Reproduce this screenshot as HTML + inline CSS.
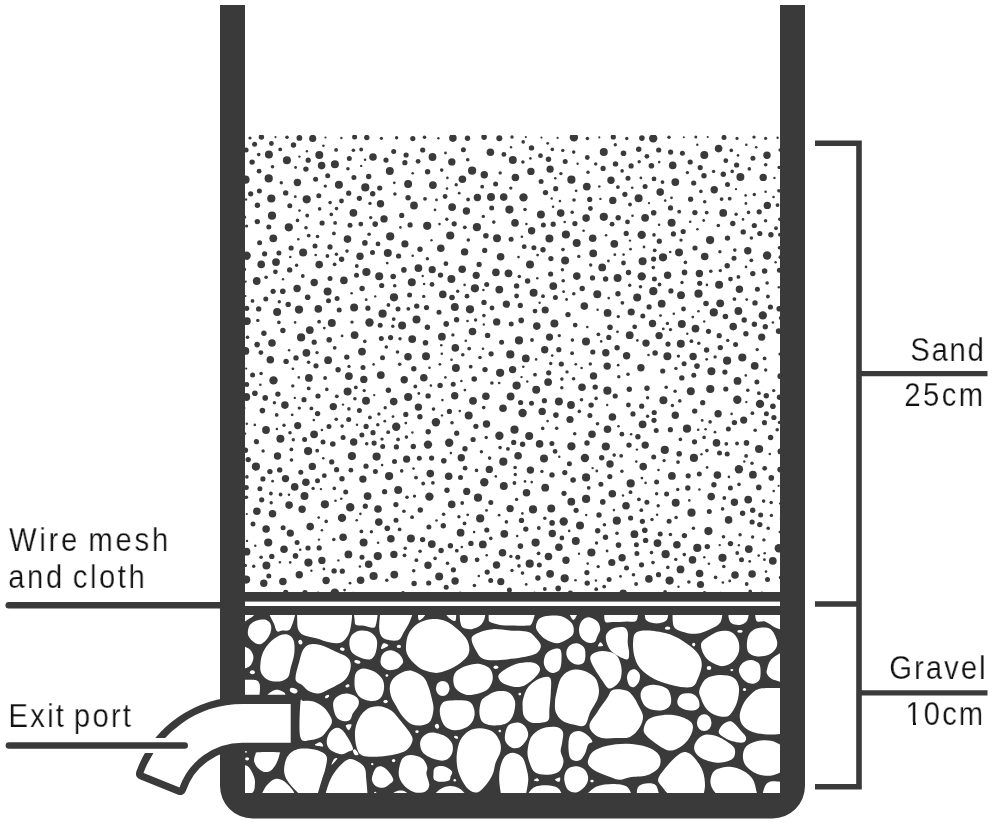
<!DOCTYPE html>
<html><head><meta charset="utf-8"><style>
html,body{margin:0;padding:0;background:#fff;width:992px;height:822px;overflow:hidden}
svg{position:absolute;left:0;top:0}
.t{position:absolute;-webkit-text-stroke:0.25px #fff;will-change:transform;font-family:"Liberation Sans",sans-serif;font-size:34px;line-height:40px;color:#111111;white-space:nowrap}
</style></head><body>
<svg width="992" height="822" viewBox="0 0 992 822">
<defs>
<clipPath id="sandclip"><rect x="245" y="135" width="535" height="457"/></clipPath>
<clipPath id="gravclip"><rect x="245" y="615" width="535" height="178"/></clipPath>
</defs>
<g fill="#3a3a3a" clip-path="url(#sandclip)"><circle cx="250" cy="138" r="1.6"/><circle cx="261.4" cy="137.1" r="2.7"/><circle cx="275.5" cy="137.1" r="1.1"/><circle cx="287" cy="137.2" r="1.8"/><circle cx="299.4" cy="137.9" r="2.9"/><circle cx="312.7" cy="138.4" r="3.6"/><circle cx="325.5" cy="137.5" r="1.1"/><circle cx="341.4" cy="138" r="1.2"/><circle cx="354.6" cy="137.1" r="2.5"/><circle cx="366.8" cy="137.5" r="2.7"/><circle cx="381.4" cy="138.3" r="1.6"/><circle cx="396.6" cy="137.8" r="1.7"/><circle cx="412.8" cy="138.6" r="2.6"/><circle cx="424.5" cy="137.2" r="1.8"/><circle cx="438.4" cy="138.2" r="1.2"/><circle cx="452.9" cy="138.1" r="3.8"/><circle cx="467.5" cy="138.3" r="2.7"/><circle cx="484.1" cy="137.1" r="2.8"/><circle cx="499.3" cy="138.3" r="3"/><circle cx="512" cy="137" r="1.7"/><circle cx="525.8" cy="137.1" r="1.1"/><circle cx="541.4" cy="137.6" r="1.1"/><circle cx="557.6" cy="137.9" r="1.1"/><circle cx="573.9" cy="137.4" r="4.2"/><circle cx="587.4" cy="138.5" r="1.8"/><circle cx="599.3" cy="137.4" r="1.1"/><circle cx="613.3" cy="137" r="2.6"/><circle cx="626.8" cy="138.5" r="1.7"/><circle cx="641.9" cy="138.1" r="2.8"/><circle cx="653.2" cy="138.4" r="4.2"/><circle cx="669" cy="137.2" r="1.7"/><circle cx="683.8" cy="137.3" r="1"/><circle cx="695.8" cy="137" r="1.5"/><circle cx="707.7" cy="137" r="1.1"/><circle cx="724" cy="137.4" r="2.5"/><circle cx="737" cy="138.4" r="1.6"/><circle cx="754" cy="137.1" r="1.7"/><circle cx="765.6" cy="138.3" r="1.6"/><circle cx="777.6" cy="137.8" r="1.2"/><circle cx="246.1" cy="150" r="2.5"/><circle cx="245.5" cy="179.7" r="4.1"/><circle cx="246.1" cy="199.5" r="1.2"/><circle cx="246.6" cy="226" r="1.6"/><circle cx="246.6" cy="255.7" r="4.2"/><circle cx="245.7" cy="281.6" r="1.1"/><circle cx="245.5" cy="296" r="1.1"/><circle cx="246.9" cy="321.1" r="3.9"/><circle cx="245.4" cy="350.9" r="3.9"/><circle cx="246.2" cy="368.6" r="1.1"/><circle cx="246.3" cy="397" r="3.9"/><circle cx="246.8" cy="423.8" r="1.2"/><circle cx="245.4" cy="450.3" r="2.7"/><circle cx="246.9" cy="476.9" r="1.8"/><circle cx="246.4" cy="497.2" r="1.8"/><circle cx="246.8" cy="514" r="1.1"/><circle cx="247" cy="540.9" r="1.2"/><circle cx="245.3" cy="565.4" r="1.7"/><circle cx="246.1" cy="579.6" r="4.1"/><circle cx="780.2" cy="150" r="1.8"/><circle cx="779" cy="167.4" r="1.6"/><circle cx="778.8" cy="190.8" r="1.7"/><circle cx="779.7" cy="219.3" r="1.7"/><circle cx="779.5" cy="247.8" r="1.8"/><circle cx="779.4" cy="270.3" r="2.5"/><circle cx="778.8" cy="287.2" r="1.2"/><circle cx="779.2" cy="308.8" r="2.8"/><circle cx="778.7" cy="331.1" r="2.9"/><circle cx="780" cy="354.1" r="1.6"/><circle cx="780.3" cy="376.2" r="2.9"/><circle cx="779.5" cy="397.3" r="2.7"/><circle cx="779.5" cy="422.4" r="1.7"/><circle cx="780.4" cy="451.4" r="2.9"/><circle cx="780.2" cy="469.6" r="2.9"/><circle cx="778.6" cy="485.8" r="1.1"/><circle cx="780.1" cy="503.6" r="1.2"/><circle cx="779.8" cy="532" r="1.2"/><circle cx="778.9" cy="548.3" r="4.3"/><circle cx="780.5" cy="577.5" r="1.7"/><circle cx="252" cy="593.5" r="1.1"/><circle cx="271.4" cy="593.9" r="1.1"/><circle cx="285.7" cy="592.5" r="2.7"/><circle cx="305" cy="592.6" r="2.7"/><circle cx="334.8" cy="592.7" r="4.3"/><circle cx="353.1" cy="593" r="1.2"/><circle cx="369.1" cy="594.1" r="1.8"/><circle cx="387.3" cy="593.6" r="1.2"/><circle cx="412.5" cy="593.9" r="1"/><circle cx="433.3" cy="593.8" r="1.2"/><circle cx="460.1" cy="592.6" r="1.2"/><circle cx="487.9" cy="593.6" r="1.6"/><circle cx="516.7" cy="593.6" r="1.6"/><circle cx="534.5" cy="592.6" r="1.1"/><circle cx="551.8" cy="594" r="1.6"/><circle cx="570.4" cy="593.2" r="2.6"/><circle cx="584.7" cy="594" r="1.5"/><circle cx="607.5" cy="594.4" r="1.1"/><circle cx="623.2" cy="593.5" r="3.9"/><circle cx="650.6" cy="593.9" r="1.7"/><circle cx="680.3" cy="593.9" r="1.8"/><circle cx="704.5" cy="592.6" r="1.6"/><circle cx="720.5" cy="593" r="1.2"/><circle cx="737.2" cy="594.2" r="1.2"/><circle cx="761.9" cy="593.1" r="1.6"/><circle cx="464" cy="559" r="3.9"/><circle cx="723.2" cy="212.9" r="3.9"/><circle cx="611" cy="180.2" r="3.7"/><circle cx="640.9" cy="367.8" r="3.7"/><circle cx="536.2" cy="389.8" r="4"/><circle cx="665.6" cy="554.2" r="4.1"/><circle cx="582" cy="387.2" r="3.8"/><circle cx="691.5" cy="512.7" r="4.1"/><circle cx="442.8" cy="294.4" r="3.8"/><circle cx="402.1" cy="325.4" r="4"/><circle cx="695.5" cy="328.6" r="3.9"/><circle cx="610" cy="464" r="3.7"/><circle cx="704.7" cy="256.5" r="3.8"/><circle cx="626" cy="505.7" r="3.8"/><circle cx="297.4" cy="182.5" r="3.7"/><circle cx="324.9" cy="504.3" r="4.1"/><circle cx="504.3" cy="533.8" r="3.9"/><circle cx="667.6" cy="275.3" r="3.7"/><circle cx="306.4" cy="352.8" r="3.9"/><circle cx="614.3" cy="243.8" r="3.9"/><circle cx="462.4" cy="179.2" r="3.8"/><circle cx="580" cy="525.5" r="4"/><circle cx="378.8" cy="522.1" r="3.8"/><circle cx="468.7" cy="415.4" r="4"/><circle cx="308.1" cy="451.1" r="4.1"/><circle cx="432.9" cy="185.1" r="3.9"/><circle cx="484.3" cy="482.2" r="4.2"/><circle cx="607.6" cy="312.9" r="3.9"/><circle cx="343.9" cy="280.4" r="3.8"/><circle cx="737.5" cy="380.9" r="3.9"/><circle cx="343.1" cy="537.3" r="3.8"/><circle cx="554.4" cy="323.5" r="4"/><circle cx="390.2" cy="236.4" r="4.1"/><circle cx="549.4" cy="238.6" r="4"/><circle cx="427.2" cy="225.8" r="4.1"/><circle cx="738.9" cy="469.2" r="4.2"/><circle cx="734.4" cy="502.2" r="3.7"/><circle cx="530.9" cy="171.4" r="3.7"/><circle cx="496.7" cy="321.9" r="3.7"/><circle cx="687" cy="428.7" r="4.1"/><circle cx="722.5" cy="557.8" r="4.1"/><circle cx="354.6" cy="335.1" r="3.9"/><circle cx="379.2" cy="276.3" r="4"/><circle cx="739.4" cy="289.2" r="3.7"/><circle cx="529.2" cy="436" r="4"/><circle cx="617.6" cy="277.9" r="4"/><circle cx="338.9" cy="184.7" r="4"/><circle cx="303.1" cy="252.5" r="4"/><circle cx="347.5" cy="239.1" r="3.8"/><circle cx="362.9" cy="479.1" r="3.7"/><circle cx="353.7" cy="442" r="3.7"/><circle cx="500.1" cy="372.8" r="4.1"/><circle cx="428" cy="444.6" r="4.2"/><circle cx="333.3" cy="406.6" r="3.7"/><circle cx="284" cy="549.2" r="3.8"/><circle cx="642.6" cy="424.3" r="3.9"/><circle cx="284.9" cy="405.1" r="3.8"/><circle cx="389.8" cy="171" r="4"/><circle cx="423.8" cy="377.7" r="3.8"/><circle cx="675.3" cy="182.1" r="3.9"/><circle cx="530.4" cy="470.1" r="3.7"/><circle cx="571.4" cy="179.7" r="4.1"/><circle cx="576.8" cy="276.1" r="3.8"/><circle cx="398.2" cy="489.9" r="4"/><circle cx="638.6" cy="198.2" r="4"/><circle cx="733.2" cy="326.6" r="3.8"/><circle cx="533.6" cy="292.7" r="4"/><circle cx="297.1" cy="288.5" r="3.7"/><circle cx="410.9" cy="538.4" r="4"/><circle cx="629.7" cy="335.2" r="3.9"/><circle cx="671.6" cy="222.8" r="4"/><circle cx="380.8" cy="375.1" r="3.9"/><circle cx="288.8" cy="227.3" r="4.1"/><circle cx="515" cy="222.9" r="3.8"/><circle cx="476.2" cy="275.3" r="3.6"/><circle cx="529.7" cy="563.7" r="4.1"/><circle cx="476.9" cy="227.2" r="4.1"/><circle cx="571.4" cy="446.3" r="4.1"/><circle cx="718.1" cy="413.7" r="3.7"/><circle cx="743.7" cy="420.1" r="3.6"/><circle cx="740.4" cy="176.9" r="4"/><circle cx="551.2" cy="508.5" r="4"/><circle cx="428" cy="565.3" r="3.7"/><circle cx="377.8" cy="556.1" r="4.1"/><circle cx="560.7" cy="213.1" r="3.8"/><circle cx="396.2" cy="426.7" r="4.2"/><circle cx="611.8" cy="562.5" r="3.6"/><circle cx="461.3" cy="457.7" r="3.7"/><circle cx="380.5" cy="203.7" r="3.7"/><circle cx="747.8" cy="250.7" r="3.7"/><circle cx="643.2" cy="466.6" r="3.8"/><circle cx="510.1" cy="508.6" r="3.7"/><circle cx="503.7" cy="197.1" r="3.8"/><circle cx="634.4" cy="534.2" r="3.9"/><circle cx="348.9" cy="376.1" r="3.9"/><circle cx="607.5" cy="429.3" r="3.8"/><circle cx="671.9" cy="475.9" r="3.9"/><circle cx="653.3" cy="291.2" r="4.1"/><circle cx="558.9" cy="401.6" r="4"/><circle cx="451.7" cy="504.4" r="3.8"/><circle cx="441.9" cy="336.7" r="3.9"/><circle cx="698.5" cy="293.7" r="4.1"/><circle cx="607.2" cy="366.1" r="3.7"/><circle cx="663.4" cy="400.2" r="4"/><circle cx="480.2" cy="518.4" r="4.1"/><circle cx="376.6" cy="456.6" r="4.1"/><circle cx="430.3" cy="473.6" r="3.8"/><circle cx="690.8" cy="391.3" r="4"/><circle cx="452.1" cy="207.1" r="3.9"/><circle cx="366" cy="400.8" r="4"/><circle cx="519" cy="340.4" r="4.1"/><circle cx="544.7" cy="349.8" r="3.7"/><circle cx="455.9" cy="368.1" r="4"/><circle cx="308.9" cy="377.9" r="3.9"/><circle cx="748.8" cy="549.1" r="3.9"/><circle cx="277.5" cy="456" r="3.7"/><circle cx="289.1" cy="505.1" r="3.8"/><circle cx="499.4" cy="435.8" r="4.2"/><circle cx="667.4" cy="356.2" r="4"/><circle cx="603.8" cy="216.8" r="4.1"/><circle cx="310.2" cy="526.6" r="3.8"/><circle cx="566" cy="560.3" r="3.7"/><circle cx="679" cy="252.4" r="4"/><circle cx="693.9" cy="457.9" r="4.1"/><circle cx="716.5" cy="442.9" r="3.8"/><circle cx="548.5" cy="556.5" r="3.8"/><circle cx="418.4" cy="407.1" r="3.7"/><circle cx="406.6" cy="459.2" r="3.6"/><circle cx="692.5" cy="559.9" r="3.8"/><circle cx="408.1" cy="183.9" r="4"/><circle cx="418.4" cy="268.1" r="3.9"/><circle cx="586.1" cy="477.4" r="4.1"/><circle cx="742.3" cy="357.5" r="4.1"/><circle cx="584.3" cy="306.1" r="3.8"/><circle cx="429.4" cy="496.6" r="4.2"/><circle cx="454.7" cy="395.7" r="3.7"/><circle cx="711.2" cy="496.6" r="3.8"/><circle cx="586" cy="341.6" r="4"/><circle cx="305.9" cy="482.3" r="3.8"/><circle cx="526.5" cy="492.8" r="3.8"/><circle cx="499.3" cy="289.6" r="3.9"/><circle cx="496.5" cy="565" r="3.7"/><circle cx="266.4" cy="565.6" r="4"/><circle cx="641.7" cy="234.9" r="4.2"/><circle cx="299.3" cy="574.8" r="3.7"/><circle cx="309.8" cy="330.1" r="3.9"/><circle cx="472.5" cy="331.5" r="3.8"/><circle cx="440.8" cy="248.3" r="3.8"/><circle cx="708.4" cy="531.1" r="4.1"/><circle cx="752.1" cy="574" r="3.8"/><circle cx="652.5" cy="323.5" r="3.7"/><circle cx="720.2" cy="303.3" r="3.9"/><circle cx="394" cy="297.3" r="4.1"/><circle cx="350.2" cy="507.2" r="4.2"/><circle cx="714.2" cy="189.7" r="3.7"/><circle cx="331.8" cy="322.9" r="4"/><circle cx="414" cy="205.5" r="3.9"/><circle cx="460.6" cy="532.7" r="3.9"/><circle cx="664.8" cy="449.9" r="4.1"/><circle cx="485.9" cy="396.2" r="3.8"/><circle cx="484.3" cy="174.7" r="3.7"/><circle cx="273.5" cy="380.4" r="4.2"/><circle cx="389.1" cy="476.1" r="4.1"/><circle cx="299" cy="309.6" r="4.1"/><circle cx="530" cy="264.6" r="4"/><circle cx="321.9" cy="560.4" r="3.7"/><circle cx="297.7" cy="425.6" r="3.6"/><circle cx="645.2" cy="445.1" r="3.7"/><circle cx="408" cy="356.8" r="3.8"/><circle cx="435.9" cy="422.3" r="4.2"/><circle cx="319.3" cy="155.1" r="4"/><circle cx="466.7" cy="491.4" r="3.6"/><circle cx="477.4" cy="197.5" r="3.7"/><circle cx="576.7" cy="242.9" r="4"/><circle cx="382.6" cy="313.7" r="4.1"/><circle cx="545.5" cy="192.6" r="2.7"/><circle cx="525.8" cy="529.1" r="2.7"/><circle cx="431.8" cy="544.1" r="3.9"/><circle cx="367.6" cy="496.1" r="3.9"/><circle cx="484" cy="302.4" r="2.7"/><circle cx="354.1" cy="307.6" r="4"/><circle cx="500.6" cy="256.8" r="3.8"/><circle cx="552.3" cy="533.5" r="3.7"/><circle cx="491.1" cy="353.8" r="2.6"/><circle cx="268.7" cy="178.4" r="4.1"/><circle cx="359.4" cy="198.3" r="2.6"/><circle cx="570" cy="419.5" r="3.6"/><circle cx="398.6" cy="256" r="2.6"/><circle cx="360" cy="256.2" r="3.7"/><circle cx="654" cy="178.9" r="2.4"/><circle cx="331.7" cy="461.9" r="2.6"/><circle cx="591.4" cy="552.5" r="4.1"/><circle cx="328.1" cy="360.2" r="3.9"/><circle cx="432.5" cy="157" r="3.9"/><circle cx="642.6" cy="261.2" r="4"/><circle cx="758.8" cy="487.4" r="2.8"/><circle cx="629.3" cy="389.2" r="2.7"/><circle cx="755" cy="302.9" r="2.7"/><circle cx="394.3" cy="574.6" r="3.9"/><circle cx="322.1" cy="223" r="2.6"/><circle cx="660.2" cy="534" r="2.5"/><circle cx="752.1" cy="522" r="2.6"/><circle cx="286.1" cy="361.4" r="2.7"/><circle cx="555.4" cy="297.6" r="2.5"/><circle cx="693.1" cy="356.5" r="3.7"/><circle cx="687.8" cy="488" r="2.7"/><circle cx="516.6" cy="385.6" r="4.1"/><circle cx="503.3" cy="461.7" r="4.1"/><circle cx="759.8" cy="233.5" r="2.6"/><circle cx="694.9" cy="212.6" r="2.7"/><circle cx="653.7" cy="212.8" r="2.8"/><circle cx="348.7" cy="419.6" r="2.5"/><circle cx="717.4" cy="475.1" r="3.8"/><circle cx="552" cy="474.9" r="2.7"/><circle cx="551.9" cy="443.6" r="2.5"/><circle cx="759.1" cy="449" r="4.1"/><circle cx="646.9" cy="502.2" r="2.5"/><circle cx="666.6" cy="493.9" r="2.5"/><circle cx="278.9" cy="253.1" r="2.5"/><circle cx="286.9" cy="160.3" r="4"/><circle cx="561.3" cy="364" r="2.6"/><circle cx="329" cy="426.5" r="2.5"/><circle cx="464.6" cy="251.9" r="3.7"/><circle cx="373" cy="157" r="3.8"/><circle cx="349.3" cy="158.6" r="2.5"/><circle cx="720.3" cy="347.6" r="2.7"/><circle cx="304" cy="399.7" r="2.6"/><circle cx="282.9" cy="330.5" r="2.7"/><circle cx="473.1" cy="439.5" r="2.6"/><circle cx="381.3" cy="338.5" r="2.5"/><circle cx="704.3" cy="154.9" r="4"/><circle cx="484.7" cy="250.4" r="2.6"/><circle cx="266" cy="430" r="3.9"/><circle cx="628.4" cy="405" r="2.4"/><circle cx="346.8" cy="357.1" r="2.7"/><circle cx="270.3" cy="359.8" r="3.8"/><circle cx="760" cy="403.9" r="4.2"/><circle cx="285.5" cy="478.6" r="3.7"/><circle cx="612.3" cy="493.8" r="3.8"/><circle cx="280.4" cy="438.7" r="4"/><circle cx="669.6" cy="580.6" r="4.1"/><circle cx="490.4" cy="152.2" r="3.8"/><circle cx="503.8" cy="485.9" r="4"/><circle cx="589.7" cy="199.4" r="2.6"/><circle cx="420.3" cy="510" r="2.7"/><circle cx="756.9" cy="381.9" r="2.5"/><circle cx="605.8" cy="446.5" r="4.1"/><circle cx="520.3" cy="305.4" r="2.6"/><circle cx="641.7" cy="276.4" r="4.2"/><circle cx="427.4" cy="327.3" r="2.7"/><circle cx="575.2" cy="325.1" r="2.4"/><circle cx="690.6" cy="199.2" r="2.6"/><circle cx="609.1" cy="579.5" r="2.5"/><circle cx="455.3" cy="347.9" r="3.8"/><circle cx="565.2" cy="161.5" r="2.5"/><circle cx="680.8" cy="343.8" r="4"/><circle cx="273.1" cy="291.3" r="2.6"/><circle cx="763.2" cy="177.4" r="3.7"/><circle cx="396" cy="520.2" r="2.5"/><circle cx="707.3" cy="546.6" r="2.7"/><circle cx="647" cy="388.3" r="2.7"/><circle cx="646" cy="343.1" r="3.7"/><circle cx="443.8" cy="460.7" r="2.8"/><circle cx="574.9" cy="223.6" r="2.6"/><circle cx="542.2" cy="411.4" r="3.7"/><circle cx="337.1" cy="298.4" r="2.5"/><circle cx="727.5" cy="238.1" r="2.7"/><circle cx="605.5" cy="537.3" r="2.7"/><circle cx="681.8" cy="324" r="4"/><circle cx="536.8" cy="326.1" r="3.8"/><circle cx="719.1" cy="284.8" r="4"/><circle cx="259.6" cy="242.7" r="2.5"/><circle cx="482.8" cy="544.4" r="3.9"/><circle cx="587.3" cy="157.5" r="2.4"/><circle cx="592.5" cy="277.9" r="2.6"/><circle cx="512.8" cy="159.9" r="4"/><circle cx="725.8" cy="160.7" r="2.4"/><circle cx="510.3" cy="354.4" r="4.1"/><circle cx="631.2" cy="312" r="3.6"/><circle cx="612.8" cy="200.4" r="3.7"/><circle cx="738.4" cy="311" r="3.9"/><circle cx="537.9" cy="578" r="2.7"/><circle cx="525.8" cy="358.4" r="3.9"/><circle cx="711.4" cy="371.2" r="4"/><circle cx="564" cy="493.3" r="2.6"/><circle cx="360.6" cy="580.2" r="3.8"/><circle cx="382.5" cy="357.7" r="2.5"/><circle cx="271.3" cy="198.5" r="4.1"/><circle cx="728.6" cy="519.9" r="3.8"/><circle cx="550.6" cy="274" r="2.6"/><circle cx="362" cy="351.6" r="3.9"/><circle cx="659.3" cy="241.2" r="2.6"/><circle cx="456.6" cy="319.8" r="2.7"/><circle cx="684.4" cy="535.6" r="2.7"/><circle cx="390.9" cy="538.8" r="3.8"/><circle cx="341.6" cy="259.3" r="2.7"/><circle cx="522.6" cy="413" r="4.2"/><circle cx="681.8" cy="377.9" r="2.7"/><circle cx="486.5" cy="424" r="3.7"/><circle cx="273.3" cy="238.3" r="3.9"/><circle cx="608.8" cy="337.4" r="2.6"/><circle cx="314.1" cy="434.3" r="3.9"/><circle cx="289.7" cy="269.9" r="2.7"/><circle cx="516.6" cy="285.9" r="2.7"/><circle cx="523.5" cy="197.4" r="4.2"/><circle cx="503" cy="408.2" r="3.8"/><circle cx="445.9" cy="263.7" r="2.4"/><circle cx="675.3" cy="415.2" r="3.7"/><circle cx="727.2" cy="265.7" r="2.7"/><circle cx="450.2" cy="235.5" r="4.1"/><circle cx="440.1" cy="385.4" r="2.7"/><circle cx="401.7" cy="215.4" r="2.6"/><circle cx="302.1" cy="509.2" r="3.7"/><circle cx="669.1" cy="521.2" r="2.5"/><circle cx="586.1" cy="498.9" r="4.1"/><circle cx="266.1" cy="529" r="3.8"/><circle cx="565.1" cy="260.4" r="4"/><circle cx="761.7" cy="337.2" r="3.6"/><circle cx="277.1" cy="312" r="4"/><circle cx="684.5" cy="272.4" r="2.8"/><circle cx="727.2" cy="453.9" r="2.5"/><circle cx="443.3" cy="525.8" r="2.7"/><circle cx="515.4" cy="177.5" r="3.8"/><circle cx="308" cy="548" r="2.6"/><circle cx="586.9" cy="572.6" r="2.6"/><circle cx="255.9" cy="466.6" r="4.1"/><circle cx="548.7" cy="372.8" r="2.6"/><circle cx="752.9" cy="158.2" r="2.5"/><circle cx="603.8" cy="152.1" r="4"/><circle cx="589.9" cy="415.4" r="2.5"/><circle cx="261.7" cy="499.8" r="2.6"/><circle cx="670.9" cy="290.9" r="2.6"/><circle cx="694.7" cy="411.1" r="2.7"/><circle cx="330" cy="246.9" r="2.6"/><circle cx="533" cy="509.4" r="4.1"/><circle cx="520.4" cy="546.1" r="2.8"/><circle cx="304.5" cy="496" r="4"/><circle cx="334.9" cy="164.2" r="4"/><circle cx="446.2" cy="587.3" r="2.5"/><circle cx="456.7" cy="433.2" r="2.6"/><circle cx="502.5" cy="552.7" r="3.8"/><circle cx="467" cy="296.2" r="2.4"/><circle cx="451.8" cy="161.9" r="3.7"/><circle cx="743.2" cy="231.9" r="2.7"/><circle cx="518.1" cy="455.8" r="3.8"/><circle cx="535.6" cy="542.6" r="4.1"/><circle cx="737.3" cy="399.8" r="4.2"/><circle cx="607.4" cy="390.7" r="4.1"/><circle cx="393.7" cy="401.6" r="3.8"/><circle cx="268.9" cy="154.4" r="4"/><circle cx="752.8" cy="273.6" r="2.7"/><circle cx="353.9" cy="177.5" r="2.5"/><circle cx="540.9" cy="214.5" r="4"/><circle cx="544" cy="458.6" r="4"/><circle cx="306.7" cy="199.3" r="4.1"/><circle cx="508.5" cy="273.3" r="3.9"/><circle cx="694.5" cy="441.8" r="2.6"/><circle cx="332.8" cy="444" r="2.8"/><circle cx="575.8" cy="540.9" r="4"/><circle cx="439" cy="312.3" r="2.5"/><circle cx="263.8" cy="583.3" r="3.7"/><circle cx="702.7" cy="402.7" r="2.6"/><circle cx="366.1" cy="426.4" r="2.6"/><circle cx="569.4" cy="463.7" r="2.5"/><circle cx="413.3" cy="446.5" r="2.7"/><circle cx="450.4" cy="545.8" r="2.7"/><circle cx="748.2" cy="499.6" r="3.9"/><circle cx="360.8" cy="224.1" r="2.4"/><circle cx="404.2" cy="379.7" r="3.7"/><circle cx="550.1" cy="169.2" r="3.6"/><circle cx="568" cy="314.6" r="2.7"/><circle cx="364.9" cy="242.9" r="2.8"/><circle cx="363.6" cy="542.5" r="4"/><circle cx="314.2" cy="282.5" r="3.7"/><circle cx="342" cy="478.8" r="2.7"/><circle cx="646.9" cy="156.3" r="2.4"/><circle cx="363" cy="367.4" r="2.5"/><circle cx="347.6" cy="391.5" r="4"/><circle cx="351.9" cy="456.1" r="4.1"/><circle cx="626.5" cy="568.1" r="2.5"/><circle cx="272" cy="215.7" r="4.1"/><circle cx="497" cy="238.3" r="4"/><circle cx="745.9" cy="333.8" r="2.7"/><circle cx="263.9" cy="333.3" r="2.7"/><circle cx="605.8" cy="352.7" r="3.7"/><circle cx="593.5" cy="375.9" r="3.7"/><circle cx="699.6" cy="573.5" r="3.8"/><circle cx="630.7" cy="483.4" r="4.1"/><circle cx="636.9" cy="553.6" r="2.5"/><circle cx="449.4" cy="411.4" r="2.6"/><circle cx="396.4" cy="446.9" r="2.6"/><circle cx="350" cy="225.2" r="2.5"/><circle cx="672.7" cy="165.4" r="3.8"/><circle cx="451.4" cy="278.9" r="4"/><circle cx="330" cy="278.4" r="2.5"/><circle cx="683.2" cy="231.5" r="2.6"/><circle cx="404.9" cy="162.7" r="2.6"/><circle cx="342.3" cy="571.2" r="2.6"/><circle cx="622.1" cy="557.7" r="3.7"/><circle cx="637.2" cy="297.5" r="4"/><circle cx="362.1" cy="288.5" r="2.7"/><circle cx="656.2" cy="430.6" r="2.5"/><circle cx="627.5" cy="221.9" r="2.4"/><circle cx="615.5" cy="163.9" r="2.7"/><circle cx="770.6" cy="437.5" r="2.7"/><circle cx="521.2" cy="320.4" r="2.8"/><circle cx="409.6" cy="295" r="2.5"/><circle cx="728.4" cy="429.1" r="2.5"/><circle cx="626.6" cy="355.7" r="3.7"/><circle cx="564.7" cy="578.3" r="4.1"/><circle cx="752.9" cy="474.7" r="3.9"/><circle cx="426" cy="356.2" r="4"/><circle cx="262.4" cy="410.6" r="2.8"/><circle cx="336.5" cy="208.6" r="1.8"/><circle cx="432" cy="284.4" r="2.4"/><circle cx="404.5" cy="555.3" r="1.9"/><circle cx="460.5" cy="477.6" r="2.5"/><circle cx="449.2" cy="442.8" r="4.2"/><circle cx="420" cy="249.3" r="2.7"/><circle cx="394.9" cy="194" r="1.8"/><circle cx="699.4" cy="273.5" r="3.7"/><circle cx="764.6" cy="358.4" r="1.9"/><circle cx="477.1" cy="559.8" r="2.4"/><circle cx="325.1" cy="378" r="1.9"/><circle cx="628" cy="178.2" r="2.5"/><circle cx="584.9" cy="458" r="4.2"/><circle cx="576.1" cy="510.3" r="2.6"/><circle cx="735" cy="575" r="3.8"/><circle cx="630.6" cy="518" r="2.6"/><circle cx="704" cy="175.8" r="2.7"/><circle cx="378" cy="509" r="3.8"/><circle cx="710.1" cy="240.1" r="4.1"/><circle cx="653.7" cy="457" r="2.5"/><circle cx="315.6" cy="179.2" r="2.5"/><circle cx="289.8" cy="205.7" r="2.5"/><circle cx="491.7" cy="208.1" r="2.5"/><circle cx="670.6" cy="152.1" r="2.6"/><circle cx="690.2" cy="162" r="2.6"/><circle cx="763.9" cy="539.9" r="1.7"/><circle cx="757.4" cy="289.2" r="2.5"/><circle cx="319.2" cy="264.6" r="3.8"/><circle cx="379.7" cy="188" r="2.6"/><circle cx="670.5" cy="329.6" r="1.7"/><circle cx="764.4" cy="422.7" r="2.6"/><circle cx="621.2" cy="455.8" r="1.9"/><circle cx="423.7" cy="296.4" r="1.7"/><circle cx="663" cy="257.3" r="4.1"/><circle cx="485" cy="369.6" r="2.7"/><circle cx="779.9" cy="234.7" r="1.9"/><circle cx="307.2" cy="215.5" r="1.9"/><circle cx="588" cy="172.3" r="1.7"/><circle cx="281.3" cy="182.7" r="1.7"/><circle cx="393.7" cy="151.4" r="2.5"/><circle cx="375.2" cy="224.1" r="2.8"/><circle cx="524.2" cy="246.7" r="2.4"/><circle cx="540.5" cy="155.7" r="2.4"/><circle cx="378.9" cy="414" r="1.7"/><circle cx="767.1" cy="255.5" r="4.2"/><circle cx="652" cy="519.5" r="1.7"/><circle cx="408.3" cy="308.8" r="1.9"/><circle cx="261.2" cy="264.4" r="3.8"/><circle cx="253" cy="524.1" r="2.5"/><circle cx="531.6" cy="230.8" r="3.7"/><circle cx="616.8" cy="520.7" r="4.1"/><circle cx="621.9" cy="434.2" r="2.4"/><circle cx="335.1" cy="222.9" r="1.9"/><circle cx="345.7" cy="492" r="2.5"/><circle cx="768.2" cy="528.3" r="1.8"/><circle cx="612.4" cy="417" r="3.8"/><circle cx="486.8" cy="530" r="2.6"/><circle cx="710.3" cy="389" r="4.1"/><circle cx="752" cy="463.3" r="1.7"/><circle cx="571" cy="405" r="3.9"/><circle cx="418.1" cy="161.3" r="2.4"/><circle cx="514.5" cy="429.7" r="4.1"/><circle cx="709.3" cy="511.5" r="2.5"/><circle cx="447.5" cy="563.2" r="1.8"/><circle cx="272.5" cy="513.7" r="3.8"/><circle cx="319.6" cy="208.9" r="1.8"/><circle cx="624.9" cy="194.3" r="2.6"/><circle cx="467.7" cy="159.7" r="1.8"/><circle cx="759.2" cy="211.8" r="2.6"/><circle cx="597.3" cy="294.3" r="4"/><circle cx="542.7" cy="428.4" r="1.8"/><circle cx="490.8" cy="502.5" r="2.5"/><circle cx="378" cy="243.9" r="2.4"/><circle cx="586.8" cy="186.6" r="3.9"/><circle cx="262.9" cy="478.9" r="2.6"/><circle cx="491" cy="197" r="4"/><circle cx="618" cy="293.7" r="2.7"/><circle cx="730.5" cy="543.6" r="2.7"/><circle cx="697.3" cy="547.9" r="4.1"/><circle cx="648.9" cy="578.9" r="3.8"/><circle cx="256.7" cy="281" r="3.9"/><circle cx="257.3" cy="221.6" r="2.7"/><circle cx="439.2" cy="576.6" r="4"/><circle cx="698.8" cy="343.2" r="1.7"/><circle cx="574" cy="200" r="1.8"/><circle cx="683.5" cy="309" r="2.4"/><circle cx="675.7" cy="502.8" r="4"/><circle cx="742.6" cy="513.3" r="2.7"/><circle cx="777.5" cy="205.1" r="1.9"/><circle cx="470.7" cy="366.7" r="1.9"/><circle cx="326.1" cy="580.5" r="3.7"/><circle cx="362" cy="557.2" r="2.5"/><circle cx="682.4" cy="153.2" r="2.5"/><circle cx="428.9" cy="527" r="2.5"/><circle cx="693.8" cy="375.3" r="2.5"/><circle cx="539.6" cy="443.9" r="3.8"/><circle cx="592.7" cy="238.3" r="3.8"/><circle cx="623.5" cy="153.3" r="2.8"/><circle cx="272" cy="343" r="3.8"/><circle cx="308.7" cy="235.6" r="1.9"/><circle cx="318.3" cy="308.9" r="3.8"/><circle cx="754.3" cy="194.5" r="1.7"/><circle cx="662.7" cy="371" r="2.6"/><circle cx="404.9" cy="243.9" r="3.6"/><circle cx="765.7" cy="370" r="1.7"/><circle cx="283.1" cy="527.8" r="2.5"/><circle cx="275.4" cy="271.8" r="2.4"/><circle cx="258.7" cy="308.9" r="2.7"/><circle cx="680.5" cy="569.4" r="3.9"/><circle cx="413.8" cy="368.7" r="2.7"/><circle cx="481.4" cy="451.8" r="1.7"/><circle cx="670.4" cy="429.7" r="2.6"/><circle cx="670.5" cy="207.9" r="2.6"/><circle cx="448.7" cy="476.2" r="3.8"/><circle cx="599" cy="515" r="2.7"/><circle cx="433.5" cy="409.1" r="1.8"/><circle cx="762.8" cy="315.4" r="4.2"/><circle cx="382" cy="439.1" r="1.7"/><circle cx="474.2" cy="379" r="2.8"/><circle cx="506.4" cy="304.1" r="3.7"/><circle cx="515.3" cy="474.5" r="1.7"/><circle cx="659.1" cy="335.6" r="3.7"/><circle cx="366.4" cy="272" r="4.1"/><circle cx="373.6" cy="576" r="4.1"/><circle cx="256.4" cy="441.7" r="2.6"/><circle cx="259.4" cy="191" r="2.5"/><circle cx="549.5" cy="337.1" r="3.6"/><circle cx="280.6" cy="494.5" r="1.9"/><circle cx="363.8" cy="379.4" r="3.7"/><circle cx="724.9" cy="372.1" r="2.6"/><circle cx="602.2" cy="267.4" r="3.9"/><circle cx="302.8" cy="276" r="1.9"/><circle cx="609.8" cy="476.6" r="2.6"/><circle cx="368.7" cy="176.5" r="2.7"/><circle cx="411.8" cy="282.3" r="4"/><circle cx="487.6" cy="335.4" r="2.7"/><circle cx="706.6" cy="350" r="2.7"/><circle cx="553.2" cy="224.2" r="2.6"/><circle cx="486.7" cy="284.6" r="2.5"/><circle cx="401.7" cy="470.9" r="1.8"/><circle cx="661.7" cy="303.7" r="3.9"/><circle cx="629.7" cy="285.3" r="1.7"/><circle cx="455.1" cy="581" r="3.7"/><circle cx="660.2" cy="192.1" r="3.8"/><circle cx="348.4" cy="554.4" r="3.9"/><circle cx="764.6" cy="271" r="2.8"/><circle cx="361.2" cy="149.5" r="1.9"/><circle cx="653.3" cy="267.6" r="1.8"/><circle cx="681" cy="295.2" r="3.9"/><circle cx="339.2" cy="310" r="2.5"/><circle cx="407" cy="497.3" r="1.8"/><circle cx="667.8" cy="567.4" r="1.8"/><circle cx="563.7" cy="521.5" r="4.2"/><circle cx="767" cy="155.3" r="3.7"/><circle cx="474.4" cy="585.5" r="1.8"/><circle cx="558.8" cy="349.7" r="2.6"/><circle cx="500.8" cy="581.7" r="3.6"/><circle cx="308.4" cy="562.6" r="4.1"/><circle cx="699.3" cy="474.1" r="2.5"/><circle cx="333.9" cy="233.4" r="1.9"/><circle cx="532" cy="340" r="1.9"/><circle cx="704.7" cy="201.8" r="1.8"/><circle cx="292.8" cy="385.9" r="1.7"/><circle cx="555.7" cy="188.7" r="2.6"/><circle cx="414.1" cy="583.5" r="2.7"/><circle cx="472.1" cy="170.7" r="4.1"/><circle cx="718.6" cy="148.6" r="3.8"/><circle cx="550.9" cy="258.6" r="2.6"/><circle cx="678" cy="462.1" r="1.9"/><circle cx="573.8" cy="293.7" r="1.8"/><circle cx="458.9" cy="516.7" r="1.7"/><circle cx="593.2" cy="253.4" r="3.9"/><circle cx="510.6" cy="396.5" r="3.9"/><circle cx="387.3" cy="528.2" r="2.8"/><circle cx="722.9" cy="582.5" r="1.3"/><circle cx="493.8" cy="222.1" r="1.8"/><circle cx="312.3" cy="466.4" r="3.7"/><circle cx="656.6" cy="482" r="2.5"/><circle cx="668" cy="344.1" r="2.6"/><circle cx="565.9" cy="234.5" r="4.1"/><circle cx="462.2" cy="269.2" r="3.8"/><circle cx="353.4" cy="212.8" r="3.9"/><circle cx="289.1" cy="350.2" r="1.3"/><circle cx="425" cy="198.8" r="1.9"/><circle cx="351.6" cy="293.2" r="1.3"/><circle cx="558.9" cy="547.3" r="3.8"/><circle cx="454.8" cy="307.1" r="4"/><circle cx="659.2" cy="162.1" r="1.3"/><circle cx="527.6" cy="281" r="2.7"/><circle cx="645.1" cy="217.8" r="3.9"/><circle cx="648.5" cy="355" r="1.3"/><circle cx="706.9" cy="450.6" r="1.8"/><circle cx="305.9" cy="169.1" r="2.7"/><circle cx="767.3" cy="205.4" r="3.7"/><circle cx="573.1" cy="480" r="2.8"/><circle cx="730.4" cy="487.9" r="2.5"/><circle cx="427.6" cy="171.7" r="2.7"/><circle cx="751.3" cy="260.3" r="1.9"/><circle cx="575.8" cy="364.3" r="1.4"/><circle cx="764.4" cy="559.7" r="1.4"/><circle cx="531.5" cy="403.3" r="2.5"/><circle cx="602.8" cy="501.9" r="2.8"/><circle cx="561.8" cy="387.7" r="1.7"/><circle cx="276.7" cy="414.9" r="1.9"/><circle cx="618.5" cy="545.1" r="2.8"/><circle cx="412.4" cy="432.5" r="1.2"/><circle cx="334.7" cy="347.8" r="1.9"/><circle cx="697.4" cy="229.2" r="1.3"/><circle cx="255.3" cy="545.8" r="1.2"/><circle cx="282.9" cy="581.5" r="3.8"/><circle cx="710.8" cy="271.2" r="1.8"/><circle cx="368.7" cy="564.3" r="3.8"/><circle cx="535" cy="374.7" r="1.9"/><circle cx="342" cy="517.9" r="4.2"/><circle cx="735.6" cy="344.4" r="2.5"/><circle cx="420.1" cy="551.2" r="1.8"/><circle cx="413.7" cy="570.7" r="1.8"/><circle cx="537.3" cy="278.2" r="1.3"/><circle cx="474.9" cy="288.3" r="4.1"/><circle cx="369.5" cy="322.5" r="4.2"/><circle cx="755.2" cy="430.3" r="1.8"/><circle cx="510.8" cy="188.1" r="1.7"/><circle cx="746.5" cy="442.9" r="2.8"/><circle cx="773.9" cy="417.5" r="2.6"/><circle cx="741.5" cy="559.7" r="2.5"/><circle cx="772.8" cy="560.8" r="3.9"/><circle cx="297.1" cy="542.4" r="2.5"/><circle cx="247.5" cy="337.2" r="1.8"/><circle cx="470" cy="309.3" r="4.1"/><circle cx="509.4" cy="209.6" r="4.1"/><circle cx="651.5" cy="552.6" r="1.8"/><circle cx="265.2" cy="397.9" r="2.8"/><circle cx="500.2" cy="172.9" r="1.7"/><circle cx="259.9" cy="488.8" r="2.5"/><circle cx="495.9" cy="272.4" r="3.8"/><circle cx="375.4" cy="471.6" r="2.5"/><circle cx="313.8" cy="420.1" r="1.3"/><circle cx="516.6" cy="499.4" r="1.7"/><circle cx="748.5" cy="212.4" r="1.8"/><circle cx="682" cy="282.5" r="1.7"/><circle cx="550.1" cy="573.8" r="3.9"/><circle cx="408.2" cy="397" r="4.1"/><circle cx="365.3" cy="187.4" r="4.1"/><circle cx="640.9" cy="177.9" r="1.4"/><circle cx="336.2" cy="419.3" r="1.8"/><circle cx="771.3" cy="477.9" r="2.8"/><circle cx="713.8" cy="312.4" r="4.1"/><circle cx="299.4" cy="156.6" r="1.2"/><circle cx="447.4" cy="177.9" r="1.3"/><circle cx="756.2" cy="147.2" r="1.3"/><circle cx="400" cy="338.8" r="1.7"/><circle cx="419.9" cy="416.7" r="2.7"/><circle cx="598.4" cy="334.3" r="1.9"/><circle cx="320.9" cy="489.1" r="1.2"/><circle cx="654" cy="234.9" r="1.8"/><circle cx="478" cy="497.7" r="4.1"/><circle cx="256.9" cy="511.2" r="3.8"/><circle cx="727.1" cy="360.7" r="4.1"/><circle cx="772.9" cy="406.3" r="2.8"/><circle cx="268.2" cy="542.5" r="4.1"/><circle cx="723.3" cy="174.3" r="2.7"/><circle cx="318" cy="396" r="2.6"/><circle cx="676.9" cy="544.8" r="3.8"/><circle cx="738" cy="155.4" r="1.3"/><circle cx="431.5" cy="240.3" r="1.2"/><circle cx="699.4" cy="489.5" r="1.3"/><circle cx="754.7" cy="365.8" r="3.9"/><circle cx="623.6" cy="254.6" r="1.3"/><circle cx="459.2" cy="193.2" r="1.4"/><circle cx="555.9" cy="415.1" r="2.8"/><circle cx="246.7" cy="384.4" r="2.5"/><circle cx="658.2" cy="505.7" r="1.7"/><circle cx="352" cy="322.1" r="1.7"/><circle cx="501.6" cy="342.2" r="2.5"/><circle cx="294.7" cy="486.9" r="3.8"/><circle cx="466.4" cy="211" r="3.7"/><circle cx="531.5" cy="147.9" r="2.7"/><circle cx="592" cy="434.3" r="3.8"/><circle cx="416.5" cy="319.5" r="4"/><circle cx="548.1" cy="382.1" r="3.9"/><circle cx="314.2" cy="342.2" r="2.6"/><circle cx="394.3" cy="182.8" r="1.4"/><circle cx="511.2" cy="323.9" r="2.5"/><circle cx="595.7" cy="163.9" r="1.7"/><circle cx="403.9" cy="269.9" r="2.8"/><circle cx="771.4" cy="515.4" r="1.7"/><circle cx="416" cy="477.6" r="1.9"/><circle cx="706.7" cy="212.6" r="1.9"/><circle cx="317.6" cy="413.6" r="2.7"/><circle cx="432.2" cy="269.7" r="3.6"/><circle cx="702.2" cy="420.4" r="1.4"/><circle cx="276" cy="262.1" r="3.9"/><circle cx="563.2" cy="280.7" r="1.8"/><circle cx="718.3" cy="225.5" r="1.8"/><circle cx="628" cy="374.2" r="1.8"/><circle cx="514.4" cy="483" r="1.9"/><circle cx="734.8" cy="250.1" r="1.8"/><circle cx="327.6" cy="291.6" r="4"/><circle cx="347.9" cy="168.7" r="1.8"/><circle cx="679.8" cy="400.9" r="1.8"/><circle cx="435" cy="209.9" r="1.3"/><circle cx="656.6" cy="493.7" r="1.7"/><circle cx="596.1" cy="398.4" r="1.8"/><circle cx="671.5" cy="197.8" r="1.4"/><circle cx="393.2" cy="276.5" r="2.8"/><circle cx="257.4" cy="205.3" r="2.7"/><circle cx="298.8" cy="377.4" r="1.3"/><circle cx="617.5" cy="331.8" r="1.4"/><circle cx="290.2" cy="562.4" r="1.3"/><circle cx="491.9" cy="383" r="1.8"/><circle cx="506.4" cy="521.9" r="1.8"/><circle cx="375.2" cy="296.4" r="1.2"/><circle cx="537.6" cy="255.1" r="1.4"/><circle cx="319.1" cy="321.7" r="1.9"/><circle cx="641.7" cy="406.2" r="2.6"/><circle cx="545.2" cy="487.7" r="3.9"/><circle cx="780.3" cy="593.5" r="1.4"/><circle cx="321.6" cy="165.6" r="3.8"/><circle cx="618.2" cy="365.2" r="1.4"/><circle cx="263.1" cy="451" r="1.7"/><circle cx="563" cy="249.6" r="1.8"/><circle cx="700.5" cy="584.5" r="3.6"/><circle cx="545.2" cy="310" r="3.6"/><circle cx="492" cy="308" r="2.4"/><circle cx="473" cy="400.8" r="3.9"/><circle cx="526.2" cy="584.4" r="1.4"/><circle cx="732.8" cy="223.5" r="2.7"/><circle cx="334.3" cy="488.4" r="1.8"/><circle cx="583.6" cy="230.8" r="1.3"/><circle cx="645.6" cy="540.4" r="2.7"/><circle cx="393.9" cy="554.4" r="3.7"/><circle cx="587.2" cy="583.1" r="2.7"/><circle cx="412.1" cy="517.2" r="1.9"/><circle cx="479.1" cy="264.4" r="2.6"/><circle cx="412.2" cy="339.1" r="3.9"/><circle cx="489.3" cy="469.4" r="3.7"/><circle cx="725.8" cy="389" r="2.6"/><circle cx="723.8" cy="566.5" r="1.8"/><circle cx="447" cy="490.2" r="2.7"/><circle cx="252.1" cy="162.1" r="2.7"/><circle cx="512" cy="570.5" r="1.7"/><circle cx="246.5" cy="551.7" r="3.9"/><circle cx="586.1" cy="218.1" r="3.8"/><circle cx="605.6" cy="279" r="2.7"/><circle cx="606.1" cy="235.3" r="1.3"/><circle cx="410.1" cy="224.9" r="2.6"/><circle cx="571.3" cy="501.7" r="3.9"/><circle cx="447" cy="188.6" r="1.3"/><circle cx="298.3" cy="239.3" r="1.3"/><circle cx="695" cy="248" r="2.6"/><circle cx="586.2" cy="515" r="1.2"/><circle cx="428.1" cy="395.9" r="2.7"/><circle cx="399.7" cy="364.3" r="1.8"/><circle cx="693.7" cy="183" r="2.6"/><circle cx="474.1" cy="532.1" r="1.3"/><circle cx="553.3" cy="286.1" r="3.9"/><circle cx="757.2" cy="349.6" r="1.7"/><circle cx="636.1" cy="584" r="1.9"/><circle cx="675.1" cy="391.2" r="1.7"/><circle cx="301.1" cy="337.4" r="4.1"/><circle cx="600.9" cy="484.3" r="2.5"/><circle cx="649.1" cy="306.9" r="2.6"/><circle cx="512.6" cy="369.6" r="3.7"/><circle cx="290.3" cy="533.2" r="3.6"/><circle cx="393.7" cy="319.1" r="1.9"/><circle cx="425.5" cy="342.8" r="2.8"/><circle cx="634.7" cy="326.8" r="2.4"/><circle cx="486.5" cy="510.4" r="1.4"/><circle cx="291.5" cy="460" r="1.8"/><circle cx="366.7" cy="443.8" r="1.8"/><circle cx="428.7" cy="583" r="2.6"/><circle cx="336.1" cy="149.9" r="1.9"/><circle cx="577.6" cy="163.8" r="1.2"/><circle cx="384" cy="218.9" r="3.7"/><circle cx="387.8" cy="252.9" r="4"/><circle cx="657.5" cy="543.1" r="3.9"/><circle cx="399.6" cy="529.4" r="1.9"/><circle cx="243.5" cy="408" r="1.9"/><circle cx="746.1" cy="455.9" r="1.9"/><circle cx="641.5" cy="564.8" r="2.6"/><circle cx="446.2" cy="323.9" r="2.8"/><circle cx="509.4" cy="590.1" r="2.5"/><circle cx="426.5" cy="307.6" r="2.6"/><circle cx="653.6" cy="259.1" r="2.6"/><circle cx="307.7" cy="297.2" r="2.8"/><circle cx="746" cy="266.9" r="1.3"/><circle cx="297.5" cy="220.4" r="1.8"/><circle cx="626.2" cy="233.4" r="2.6"/><circle cx="566.6" cy="299.5" r="1.4"/><circle cx="384.6" cy="491.7" r="2.6"/><circle cx="719.2" cy="335.7" r="2.6"/><circle cx="578.8" cy="256.4" r="1.7"/><circle cx="592.6" cy="468.1" r="1.2"/><circle cx="441.8" cy="353.7" r="1.3"/><circle cx="350.9" cy="470.2" r="2.4"/><circle cx="388.4" cy="390.2" r="2.7"/><circle cx="268.8" cy="227" r="2.5"/><circle cx="400.4" cy="227.4" r="1.3"/><circle cx="395.9" cy="504.6" r="2.6"/><circle cx="476.5" cy="595.9" r="1.3"/><circle cx="348.7" cy="193.2" r="2.6"/><circle cx="763.6" cy="501.1" r="1.8"/><circle cx="269.9" cy="471.6" r="2.7"/><circle cx="475.6" cy="320" r="1.7"/><circle cx="244.9" cy="433.6" r="1.4"/><circle cx="325.3" cy="186.1" r="1.7"/><circle cx="445.1" cy="196.5" r="2.4"/><circle cx="535" cy="311.1" r="2.4"/><circle cx="381.7" cy="285.5" r="2.6"/><circle cx="284" cy="425.3" r="1.7"/><circle cx="485.9" cy="235.8" r="2.8"/><circle cx="503.9" cy="154.4" r="2.4"/><circle cx="617.1" cy="347.7" r="2.7"/><circle cx="260.3" cy="384.7" r="1.3"/><circle cx="705.6" cy="429.3" r="1.3"/><circle cx="730.5" cy="279.1" r="2.4"/><circle cx="639.2" cy="161.8" r="1.7"/><circle cx="595.9" cy="580.5" r="1.2"/><circle cx="707.1" cy="467.4" r="1.4"/><circle cx="370" cy="203.4" r="1.7"/><circle cx="361.2" cy="165.9" r="1.2"/><circle cx="429.5" cy="367.7" r="1.3"/><circle cx="439.9" cy="364.3" r="1.4"/><circle cx="359.4" cy="410.5" r="2.5"/><circle cx="495.6" cy="183.9" r="2.5"/><circle cx="295.6" cy="167.5" r="1.4"/><circle cx="308.7" cy="388.4" r="1.9"/><circle cx="556.7" cy="428.2" r="1.8"/><circle cx="318.8" cy="195.8" r="2.5"/><circle cx="725.4" cy="316.5" r="2.8"/><circle cx="559.3" cy="335.6" r="1.7"/><circle cx="522.6" cy="444.2" r="2.7"/><circle cx="618.3" cy="316.6" r="1.7"/><circle cx="693.4" cy="528.3" r="1.7"/><circle cx="306.9" cy="151.2" r="1.2"/><circle cx="480" cy="357.5" r="1.8"/><circle cx="356.7" cy="520.3" r="1.3"/><circle cx="687.4" cy="172.6" r="1.7"/><circle cx="729.7" cy="198.7" r="1.9"/><circle cx="677.7" cy="489.5" r="1.7"/><circle cx="681" cy="240.1" r="1.7"/><circle cx="673.4" cy="233.9" r="2.6"/><circle cx="483.7" cy="407.6" r="1.8"/><circle cx="541.1" cy="181.6" r="2.5"/><circle cx="767.1" cy="283" r="1.8"/><circle cx="654" cy="420.3" r="2.6"/><circle cx="515.1" cy="467.5" r="1.8"/><circle cx="752.6" cy="537" r="1.7"/><circle cx="299.3" cy="408.1" r="1.7"/><circle cx="476.5" cy="470.4" r="1.8"/><circle cx="386" cy="160.1" r="2.6"/><circle cx="261.1" cy="373.5" r="1.8"/><circle cx="464.6" cy="284.9" r="1.3"/><circle cx="326.2" cy="521.4" r="1.8"/><circle cx="338.1" cy="369.7" r="2.7"/><circle cx="348.9" cy="408.9" r="1.8"/><circle cx="610" cy="327.2" r="2.8"/><circle cx="487.2" cy="572.1" r="2.6"/><circle cx="590.7" cy="265" r="1.7"/><circle cx="659.1" cy="224.8" r="1.3"/><circle cx="341.5" cy="201" r="2.4"/><circle cx="422.7" cy="150" r="2.6"/><circle cx="637.3" cy="594.6" r="1.8"/><circle cx="486.2" cy="437.5" r="1.7"/><circle cx="318.1" cy="593.3" r="1.8"/><circle cx="746.3" cy="144.8" r="1.3"/><circle cx="658.7" cy="150" r="2.6"/><circle cx="439.5" cy="224.1" r="1.3"/><circle cx="754.3" cy="225.5" r="2.6"/><circle cx="780.5" cy="318" r="1.7"/><circle cx="483.9" cy="315.6" r="1.8"/><circle cx="507.9" cy="448.9" r="1.9"/><circle cx="544.4" cy="400.7" r="2.6"/><circle cx="618.5" cy="426.2" r="1.3"/><circle cx="558.2" cy="588.4" r="2.8"/><circle cx="651.4" cy="165.7" r="2.8"/><circle cx="317.5" cy="236.5" r="1.8"/><circle cx="679.2" cy="453.8" r="2.8"/><circle cx="463.4" cy="149.7" r="2.5"/><circle cx="454.2" cy="223.8" r="2.6"/><circle cx="598.2" cy="566.6" r="1.7"/><circle cx="588.7" cy="487.8" r="1.9"/><circle cx="490.7" cy="580.6" r="2.5"/><circle cx="486.7" cy="555.3" r="1.3"/><circle cx="653" cy="562.6" r="1.8"/><circle cx="597.5" cy="423.7" r="1.8"/><circle cx="336.6" cy="469.7" r="2.6"/><circle cx="533.9" cy="247.8" r="2.5"/><circle cx="708.9" cy="563.7" r="1.3"/><circle cx="371.4" cy="531.7" r="1.7"/><circle cx="452.9" cy="334.9" r="1.7"/><circle cx="367.9" cy="308.2" r="2.6"/><circle cx="642.4" cy="521.3" r="2.6"/><circle cx="604.4" cy="524.8" r="1.8"/><circle cx="618.2" cy="217.8" r="2.7"/><circle cx="519.3" cy="276.5" r="1.8"/><circle cx="372.5" cy="252.5" r="2.5"/><circle cx="522.4" cy="513.4" r="1.3"/><circle cx="574.7" cy="433.7" r="1.8"/><circle cx="319" cy="539.6" r="1.2"/><circle cx="521.5" cy="520.4" r="2.7"/><circle cx="517.8" cy="557.2" r="2.5"/><circle cx="736" cy="189.1" r="1.2"/><circle cx="397.5" cy="352" r="1.8"/><circle cx="737" cy="443.5" r="1.9"/><circle cx="416.7" cy="306.1" r="2.7"/><circle cx="356.5" cy="275.3" r="2.5"/><circle cx="621.9" cy="471.3" r="1.7"/><circle cx="698.5" cy="311.3" r="1.3"/><circle cx="343.1" cy="437.5" r="2.5"/><circle cx="525" cy="209.5" r="1.8"/><circle cx="688.2" cy="475.8" r="2.6"/><circle cx="373.6" cy="364.4" r="1.3"/><circle cx="697" cy="366.1" r="2.8"/><circle cx="315" cy="245.9" r="2.5"/><circle cx="257.1" cy="344.6" r="2.8"/><circle cx="465" cy="448.7" r="2.7"/><circle cx="270.9" cy="493.5" r="1.9"/><circle cx="642.8" cy="316" r="2.5"/><circle cx="767.5" cy="579.5" r="2.5"/><circle cx="403" cy="592.9" r="1.8"/><circle cx="291.1" cy="248" r="2.6"/><circle cx="727.5" cy="184.6" r="2.5"/><circle cx="617" cy="533.3" r="1.8"/><circle cx="629" cy="445.1" r="2.7"/><circle cx="715.6" cy="577.4" r="1.8"/><circle cx="658.5" cy="574.7" r="2.6"/><circle cx="319.2" cy="547.9" r="2.6"/><circle cx="499.1" cy="515.2" r="1.4"/><circle cx="398" cy="309.1" r="2.5"/><circle cx="432.9" cy="482.8" r="1.9"/><circle cx="603.1" cy="168.4" r="2.6"/><circle cx="645.6" cy="482.9" r="1.3"/><circle cx="431.6" cy="458.1" r="2.6"/><circle cx="518.5" cy="257.1" r="1.3"/><circle cx="246.7" cy="308.3" r="2.6"/><circle cx="323" cy="441.9" r="2.5"/><circle cx="590.3" cy="363.9" r="1.7"/><circle cx="764.7" cy="468.3" r="2.4"/><circle cx="582.2" cy="288.5" r="2.7"/><circle cx="452" cy="297.5" r="2.8"/><circle cx="282.8" cy="291.2" r="2.8"/><circle cx="321.9" cy="530.3" r="1.3"/><circle cx="443.6" cy="514.3" r="1.8"/><circle cx="271.4" cy="143.5" r="2.4"/><circle cx="710.1" cy="421.9" r="1.8"/><circle cx="773.7" cy="491" r="1.3"/><circle cx="615.2" cy="396" r="2.6"/><circle cx="382.7" cy="446.4" r="2.5"/><circle cx="445.5" cy="153" r="1.4"/><circle cx="767.9" cy="296.5" r="1.9"/><circle cx="738.4" cy="276.9" r="1.9"/><circle cx="666.2" cy="387.2" r="1.8"/><circle cx="300.2" cy="549.7" r="1.3"/><circle cx="290.3" cy="257" r="1.3"/><circle cx="530.4" cy="158.4" r="1.3"/><circle cx="572.1" cy="353.2" r="1.9"/><circle cx="405.8" cy="414.4" r="2.6"/><circle cx="394.5" cy="461.6" r="2.5"/><circle cx="770.9" cy="234.7" r="2.7"/><circle cx="665.1" cy="592" r="1.9"/><circle cx="489.6" cy="458.1" r="1.8"/><circle cx="427.4" cy="258.7" r="1.7"/><circle cx="547.6" cy="421.1" r="1.3"/><circle cx="749.3" cy="168.9" r="1.8"/><circle cx="384.8" cy="421.2" r="1.4"/><circle cx="511" cy="147.2" r="1.2"/><circle cx="292.9" cy="368.8" r="1.4"/><circle cx="637.9" cy="436.7" r="2.7"/><circle cx="536.1" cy="359.4" r="1.3"/><circle cx="597.7" cy="530.7" r="2.7"/><circle cx="265.8" cy="298.9" r="2.5"/><circle cx="334.1" cy="570.9" r="2.7"/><circle cx="271.8" cy="556.4" r="2.7"/><circle cx="736.6" cy="165" r="2.6"/><circle cx="765.3" cy="326.8" r="2.7"/><circle cx="766.4" cy="413.7" r="2.5"/><circle cx="453.2" cy="384.3" r="2.5"/><circle cx="664.1" cy="460.6" r="1.7"/><circle cx="604.2" cy="586.6" r="1.9"/><circle cx="700.9" cy="191.4" r="1.8"/><circle cx="587.3" cy="327" r="1.3"/><circle cx="462.2" cy="503" r="1.9"/><circle cx="295.1" cy="322.4" r="1.3"/><circle cx="482.2" cy="186.7" r="1.9"/><circle cx="374.1" cy="443.1" r="2.6"/><circle cx="655.1" cy="353" r="2.8"/><circle cx="414.5" cy="496.1" r="1.7"/><circle cx="538.8" cy="528" r="1.9"/><circle cx="564.8" cy="472.6" r="2.6"/><circle cx="290" cy="432.8" r="1.8"/><circle cx="721.6" cy="199.1" r="1.9"/><circle cx="607.2" cy="405" r="1.2"/><circle cx="317.5" cy="480.7" r="2.5"/><circle cx="279.7" cy="469.9" r="2.7"/><circle cx="268.8" cy="576" r="2.5"/><circle cx="306" cy="227.8" r="1.8"/><circle cx="688.9" cy="582" r="1.8"/><circle cx="719.5" cy="453" r="2.5"/><circle cx="731.6" cy="413.9" r="1.3"/><circle cx="244.4" cy="269.5" r="1.7"/><circle cx="736.1" cy="214.2" r="1.7"/><circle cx="552.3" cy="149.4" r="1.8"/><circle cx="631.1" cy="165.9" r="2.6"/><circle cx="422.6" cy="539.6" r="2.7"/><circle cx="393" cy="416.6" r="1.4"/><circle cx="722.6" cy="508.9" r="1.8"/><circle cx="587.7" cy="563.6" r="1.3"/><circle cx="317" cy="352.6" r="1.7"/><circle cx="418.8" cy="393.5" r="1.4"/><circle cx="419.3" cy="458.2" r="2.5"/><circle cx="690.2" cy="221.8" r="1.3"/><circle cx="520.6" cy="402.5" r="2.6"/><circle cx="734.4" cy="422.6" r="2.7"/><circle cx="684.1" cy="363.8" r="2.5"/><circle cx="369.9" cy="417.4" r="1.9"/><circle cx="612.1" cy="224.2" r="2.4"/><circle cx="444.8" cy="595.8" r="2.5"/><circle cx="641.3" cy="510.2" r="1.9"/><circle cx="361.9" cy="434.9" r="2.5"/><circle cx="706" cy="303.5" r="2.8"/><circle cx="253.7" cy="566.3" r="1.7"/><circle cx="781.7" cy="518.9" r="1.9"/><circle cx="633" cy="413.9" r="2.6"/><circle cx="581.5" cy="399.7" r="1.8"/><circle cx="382.1" cy="465.1" r="1.3"/><circle cx="734" cy="258.3" r="2.5"/><circle cx="680.4" cy="439.4" r="1.8"/><circle cx="579.3" cy="411.4" r="1.8"/><circle cx="630.5" cy="249.2" r="1.4"/><circle cx="715" cy="432.2" r="1.4"/><circle cx="316" cy="365.8" r="2.6"/><circle cx="667.4" cy="323.4" r="1.7"/><circle cx="770.4" cy="307" r="2.6"/><circle cx="500.1" cy="447.6" r="1.8"/><circle cx="279.9" cy="562.2" r="1.2"/><circle cx="720.3" cy="270.6" r="1.7"/><circle cx="266.1" cy="277.2" r="1.8"/><circle cx="550.7" cy="363.5" r="1.7"/><circle cx="250.7" cy="193.8" r="2.6"/><circle cx="601.2" cy="341.4" r="1.3"/><circle cx="464.8" cy="227.3" r="1.9"/><circle cx="442.4" cy="400.1" r="1.3"/><circle cx="595.2" cy="387.1" r="2.7"/><circle cx="745.8" cy="375.4" r="1.3"/><circle cx="654.2" cy="412.5" r="2.6"/><circle cx="773.7" cy="390.6" r="1.7"/><circle cx="766.3" cy="395.7" r="2.7"/><circle cx="543" cy="249.8" r="2.7"/><circle cx="562.8" cy="150.4" r="1.7"/><circle cx="670.4" cy="534.5" r="1.8"/><circle cx="304.6" cy="439.6" r="2.5"/><circle cx="260.9" cy="352.6" r="2.4"/><circle cx="324.3" cy="475.7" r="2.4"/><circle cx="470.9" cy="543.4" r="2.7"/><circle cx="684.3" cy="554.6" r="1.8"/><circle cx="254.6" cy="144.3" r="2.5"/><circle cx="248.2" cy="459.6" r="2.7"/><circle cx="638.7" cy="149.2" r="2.7"/><circle cx="676.1" cy="517.5" r="1.8"/><circle cx="572.4" cy="340.1" r="1.8"/><circle cx="638.9" cy="499.3" r="1.9"/><circle cx="283" cy="279.3" r="1.2"/><circle cx="516.6" cy="296" r="2.4"/><circle cx="765.6" cy="220.7" r="1.7"/><circle cx="388.4" cy="305" r="1.9"/><circle cx="630" cy="204.5" r="1.9"/><circle cx="539.3" cy="565" r="2.5"/><circle cx="547.7" cy="143.3" r="1.4"/><circle cx="576.1" cy="190.8" r="1.4"/><circle cx="541.9" cy="471.4" r="1.7"/><circle cx="559.9" cy="201.1" r="1.3"/><circle cx="692.8" cy="317.1" r="1.4"/><circle cx="295.3" cy="196.7" r="1.4"/><circle cx="744.2" cy="320" r="2.7"/><circle cx="644.8" cy="530.2" r="2.8"/><circle cx="274.4" cy="402.8" r="1.7"/><circle cx="329.2" cy="339.8" r="2.8"/><circle cx="592.8" cy="352" r="2.6"/><circle cx="246.3" cy="487.5" r="2.5"/><circle cx="300.8" cy="472.3" r="2.5"/><circle cx="552.1" cy="522.9" r="2.8"/><circle cx="342.1" cy="426.1" r="1.8"/><circle cx="708.5" cy="331.3" r="2.6"/><circle cx="561.9" cy="538" r="2.4"/><circle cx="560.9" cy="173.6" r="1.7"/><circle cx="341.3" cy="498.8" r="1.3"/><circle cx="365.3" cy="506.2" r="2.6"/><circle cx="277.9" cy="394.1" r="2.7"/><circle cx="254.9" cy="393.3" r="2.8"/><circle cx="628.5" cy="272.5" r="2.7"/><circle cx="390.6" cy="337.6" r="2.6"/><circle cx="441.1" cy="550.5" r="2.7"/><circle cx="673.8" cy="313.7" r="1.3"/><circle cx="523.2" cy="141.9" r="1.8"/><circle cx="285.7" cy="192.9" r="2.7"/><circle cx="323.4" cy="145.8" r="1.3"/><circle cx="614.2" cy="455.1" r="1.8"/><circle cx="356.8" cy="266" r="1.9"/><circle cx="713.6" cy="171.4" r="1.7"/><circle cx="523.3" cy="366.8" r="1.3"/><circle cx="760.7" cy="515" r="2.5"/><circle cx="408.1" cy="197.8" r="2.7"/><circle cx="295.5" cy="555.9" r="2.8"/><circle cx="552.2" cy="355.6" r="1.3"/><circle cx="559.3" cy="456.7" r="1.2"/><circle cx="555.3" cy="178.2" r="1.3"/><circle cx="555.1" cy="451.4" r="2.4"/><circle cx="636.3" cy="461.6" r="1.3"/><circle cx="257.8" cy="320.4" r="1.7"/><circle cx="386.8" cy="580.2" r="1.7"/><circle cx="732.2" cy="171.4" r="1.8"/><circle cx="623.5" cy="263" r="2.4"/><circle cx="258.7" cy="154.6" r="1.8"/><circle cx="564.7" cy="222" r="1.3"/><circle cx="752.4" cy="413.2" r="1.9"/><circle cx="252.6" cy="374.9" r="2.5"/><circle cx="279.3" cy="301.8" r="1.7"/><circle cx="774.4" cy="177.9" r="1.2"/><circle cx="461.8" cy="547" r="1.3"/><circle cx="259.1" cy="171.2" r="2.4"/><circle cx="478.8" cy="576" r="1.3"/><circle cx="636.4" cy="544.8" r="2.5"/><circle cx="451.5" cy="359.8" r="1.3"/><circle cx="685.4" cy="262.4" r="1.8"/><circle cx="601.7" cy="457.8" r="2.7"/><circle cx="719.9" cy="251.7" r="1.7"/><circle cx="749.7" cy="561.4" r="1.4"/><circle cx="543" cy="296.2" r="1.9"/><circle cx="446.8" cy="219.3" r="1.7"/><circle cx="745.6" cy="195.4" r="1.3"/><circle cx="526.8" cy="594.8" r="1.3"/><circle cx="654.4" cy="279.1" r="2.5"/><circle cx="428.2" cy="431.7" r="2.7"/><circle cx="385.2" cy="407.7" r="1.7"/><circle cx="317.2" cy="450.7" r="1.9"/><circle cx="336.4" cy="254.2" r="1.7"/><circle cx="752.7" cy="510.2" r="2.7"/><circle cx="689.3" cy="500.4" r="1.3"/><circle cx="647.6" cy="397.8" r="1.7"/><circle cx="430.9" cy="385.6" r="1.3"/><circle cx="706.9" cy="284.9" r="1.3"/><circle cx="746.7" cy="584" r="1.9"/><circle cx="563.6" cy="291.7" r="1.4"/><circle cx="490.8" cy="538.4" r="1.8"/><circle cx="324.3" cy="328.1" r="1.4"/><circle cx="700.2" cy="167.6" r="2.6"/><circle cx="327.7" cy="175.8" r="2.5"/><circle cx="754.4" cy="324.2" r="2.7"/><circle cx="513.7" cy="442.4" r="2.6"/><circle cx="254.8" cy="424.9" r="1.3"/><circle cx="483" cy="348.7" r="1.3"/><circle cx="288.2" cy="304.4" r="2.7"/><circle cx="759.8" cy="524.6" r="2.7"/><circle cx="623" cy="495.5" r="1.2"/><circle cx="618.8" cy="376.7" r="1.7"/><circle cx="740.1" cy="534.7" r="1.7"/><circle cx="617.9" cy="187.1" r="1.9"/><circle cx="483.3" cy="216.4" r="1.7"/><circle cx="511.1" cy="239.2" r="2.5"/><circle cx="264.6" cy="253.9" r="2.6"/><circle cx="335.5" cy="500.7" r="1.3"/><circle cx="660.5" cy="315.6" r="1.4"/><circle cx="522.5" cy="573.1" r="1.8"/><circle cx="658.5" cy="470" r="1.3"/><circle cx="734.4" cy="299.1" r="1.9"/><circle cx="461.4" cy="381" r="1.3"/><circle cx="719.7" cy="545.1" r="1.2"/><circle cx="366" cy="466.2" r="2.6"/><circle cx="622.1" cy="170.9" r="1.8"/><circle cx="296" cy="357.9" r="2.7"/><circle cx="465.8" cy="340.8" r="1.3"/><circle cx="440.5" cy="275.1" r="2.7"/><circle cx="465.1" cy="468.2" r="2.4"/><circle cx="543.4" cy="225" r="2.5"/><circle cx="453.4" cy="569.8" r="2.6"/><circle cx="679.2" cy="211.7" r="1.9"/><circle cx="590.4" cy="208.5" r="2.4"/><circle cx="291.4" cy="449.4" r="1.9"/><circle cx="328.5" cy="300.7" r="2.5"/><circle cx="704.2" cy="321.5" r="1.2"/><circle cx="772.9" cy="322.5" r="1.3"/><circle cx="280.2" cy="149.4" r="1.9"/><circle cx="308.2" cy="160.2" r="2.6"/><circle cx="380.2" cy="325.2" r="2.5"/><circle cx="780.4" cy="257.2" r="1.9"/><circle cx="244.4" cy="217.2" r="1.7"/><circle cx="349" cy="366.4" r="1.7"/><circle cx="715.1" cy="356.9" r="1.7"/><circle cx="293.3" cy="439.7" r="1.7"/><circle cx="724.3" cy="498" r="1.9"/><circle cx="372.7" cy="193.7" r="2.7"/><circle cx="406.1" cy="155" r="2.6"/><circle cx="645.1" cy="186.4" r="2.5"/><circle cx="475.9" cy="426.3" r="2.6"/><circle cx="630.5" cy="492.2" r="1.9"/><circle cx="387.2" cy="263.1" r="1.4"/><circle cx="406.4" cy="437.1" r="1.8"/><circle cx="567" cy="371.9" r="1.7"/><circle cx="336.8" cy="396.3" r="1.9"/><circle cx="412.7" cy="255.7" r="1.3"/><circle cx="699.7" cy="283.3" r="2.6"/><circle cx="659.5" cy="284.5" r="1.9"/><circle cx="347" cy="251.1" r="1.8"/><circle cx="469.2" cy="348.6" r="1.9"/><circle cx="373" cy="432.7" r="2.6"/><circle cx="672.4" cy="405.5" r="1.7"/><circle cx="548.5" cy="159.2" r="2.7"/><circle cx="562.4" cy="269.8" r="1.7"/><circle cx="587" cy="443" r="2.7"/><circle cx="746.7" cy="299.6" r="1.4"/><circle cx="252.5" cy="300.9" r="1.9"/><circle cx="591.1" cy="405.1" r="2.7"/><circle cx="343" cy="404.6" r="1.2"/><circle cx="608.4" cy="261" r="1.4"/><circle cx="293.5" cy="145" r="2.7"/><circle cx="713.9" cy="484.8" r="2.7"/><circle cx="773.5" cy="197" r="1.3"/><circle cx="553.1" cy="206.8" r="1.3"/><circle cx="315.7" cy="255" r="1.3"/><circle cx="747.8" cy="390.3" r="1.8"/><circle cx="379.4" cy="595.3" r="1.3"/><circle cx="663.3" cy="328.9" r="1.4"/><circle cx="378.1" cy="542.7" r="1.3"/><circle cx="403.9" cy="511.2" r="1.8"/><circle cx="613.9" cy="510.1" r="1.3"/><circle cx="630" cy="240.6" r="1.2"/><circle cx="596.2" cy="589.2" r="1.9"/><circle cx="423.2" cy="483.5" r="1.9"/><circle cx="299.5" cy="210.6" r="1.3"/><circle cx="441.7" cy="170.1" r="1.8"/><circle cx="636.9" cy="449.6" r="1.2"/><circle cx="519" cy="565.9" r="1.8"/><circle cx="459.8" cy="411" r="1.3"/><circle cx="579" cy="553.8" r="1.2"/><circle cx="678.4" cy="356.1" r="1.7"/><circle cx="462.8" cy="354.8" r="1.8"/><circle cx="483.4" cy="290" r="1.3"/><circle cx="456.2" cy="184.7" r="1.7"/><circle cx="758.9" cy="393.2" r="1.9"/><circle cx="620.5" cy="576.4" r="1.4"/><circle cx="464.5" cy="523.4" r="1.9"/><circle cx="777.2" cy="429.8" r="1.8"/><circle cx="581.6" cy="368" r="1.3"/><circle cx="526.4" cy="224" r="1.3"/><circle cx="765.6" cy="191.8" r="1.3"/><circle cx="573.7" cy="152.1" r="1.8"/><circle cx="308.6" cy="362.3" r="1.8"/><circle cx="334.6" cy="264.3" r="1.9"/><circle cx="644" cy="247" r="1.4"/><circle cx="614.8" cy="254.7" r="1.4"/><circle cx="746.3" cy="402.1" r="1.2"/><circle cx="294.8" cy="397.9" r="1.2"/><circle cx="457.7" cy="291.3" r="1.7"/><circle cx="615.3" cy="144.8" r="1.7"/><circle cx="649" cy="203.1" r="1.2"/><circle cx="769.8" cy="454" r="1.3"/><circle cx="728.9" cy="476.9" r="1.3"/><circle cx="495.8" cy="476.4" r="1.3"/><circle cx="633.5" cy="574.8" r="1.8"/><circle cx="364.8" cy="341.4" r="1.8"/><circle cx="600.4" cy="198.9" r="1.2"/><circle cx="394.7" cy="285.7" r="1.8"/><circle cx="355.8" cy="387.4" r="1.9"/><circle cx="607.1" cy="551" r="1.4"/><circle cx="271.2" cy="502.7" r="1.7"/><circle cx="405.2" cy="548.3" r="1.7"/><circle cx="647.6" cy="416.3" r="1.7"/><circle cx="744.3" cy="461.5" r="1.2"/><circle cx="374.2" cy="395.1" r="1.2"/><circle cx="706.7" cy="359.3" r="1.4"/><circle cx="727.8" cy="340.4" r="1.7"/><circle cx="522.9" cy="162" r="1.8"/><circle cx="452" cy="422.7" r="1.8"/><circle cx="468.1" cy="199.5" r="1.9"/><circle cx="377.8" cy="424.7" r="1.8"/><circle cx="435.1" cy="558.4" r="1.8"/><circle cx="278.9" cy="322.4" r="1.8"/><circle cx="608.7" cy="298.1" r="1.3"/><circle cx="596.5" cy="543" r="1.7"/><circle cx="445.4" cy="377.4" r="1.3"/><circle cx="369.1" cy="234.3" r="1.8"/><circle cx="561.9" cy="379.1" r="1.8"/><circle cx="361.4" cy="531.4" r="1.9"/><circle cx="413.5" cy="468.6" r="1.3"/><circle cx="544.8" cy="589" r="1.9"/><circle cx="572.2" cy="212.2" r="1.8"/><circle cx="326.8" cy="389.4" r="1.8"/><circle cx="456.8" cy="550.7" r="1.9"/><circle cx="723.5" cy="536.8" r="1.8"/><circle cx="771.2" cy="502.5" r="1.8"/><circle cx="311.4" cy="408.4" r="1.9"/><circle cx="665.2" cy="200.6" r="1.3"/><circle cx="573.6" cy="378.8" r="1.8"/><circle cx="370.7" cy="217.6" r="1.7"/><circle cx="675.8" cy="559.4" r="1.7"/><circle cx="632.2" cy="187.8" r="1.3"/><circle cx="468.3" cy="240" r="1.8"/><circle cx="731.3" cy="150.4" r="1.8"/><circle cx="726.3" cy="443.8" r="1.9"/><circle cx="521.5" cy="377.1" r="1.2"/><circle cx="622.4" cy="302.8" r="1.9"/><circle cx="675.9" cy="368.4" r="1.7"/><circle cx="296.6" cy="265.3" r="1.7"/><circle cx="703.7" cy="220.5" r="1.4"/><circle cx="525" cy="481.4" r="1.3"/><circle cx="331.3" cy="214.4" r="1.8"/><circle cx="261.1" cy="557.2" r="1.8"/><circle cx="751.4" cy="238" r="1.8"/><circle cx="483.8" cy="324.5" r="1.2"/><circle cx="467.5" cy="321" r="1.3"/><circle cx="327.4" cy="256" r="1.9"/><circle cx="330.1" cy="202.6" r="1.8"/><circle cx="750.2" cy="591.4" r="1.8"/><circle cx="698.2" cy="429.8" r="1.3"/><circle cx="670.2" cy="252" r="1.3"/><circle cx="318.7" cy="517.6" r="1.3"/><circle cx="415.3" cy="386.5" r="1.9"/><circle cx="704.1" cy="437.4" r="1.8"/><circle cx="272.6" cy="481.2" r="1.4"/><circle cx="436.5" cy="520.5" r="1.3"/><circle cx="313.1" cy="488.4" r="1.7"/><circle cx="416.4" cy="560.2" r="1.9"/><circle cx="398.1" cy="439.4" r="1.9"/><circle cx="436.5" cy="199.9" r="1.4"/><circle cx="527.3" cy="381.5" r="1.2"/><circle cx="538.6" cy="553.3" r="1.9"/><circle cx="353.4" cy="150.2" r="1.8"/><circle cx="758.7" cy="555.6" r="1.3"/><circle cx="388.2" cy="432.2" r="1.9"/><circle cx="544.8" cy="518.3" r="1.7"/><circle cx="467.7" cy="514.8" r="1.4"/><circle cx="691.4" cy="341.2" r="1.9"/><circle cx="678.5" cy="586.8" r="1.2"/><circle cx="289" cy="494.8" r="1.3"/><circle cx="631.1" cy="434.2" r="1.3"/><circle cx="737.2" cy="553" r="1.9"/><circle cx="392.8" cy="326.3" r="1.7"/><circle cx="272.5" cy="166.7" r="1.8"/><circle cx="350" cy="583.2" r="1.4"/><circle cx="662.5" cy="182.1" r="1.9"/><circle cx="354.9" cy="398.7" r="1.8"/><circle cx="657.1" cy="514.7" r="1.3"/><circle cx="739" cy="484.4" r="1.8"/><circle cx="510.9" cy="556.4" r="1.7"/><circle cx="333.8" cy="539.5" r="1.8"/><circle cx="499.2" cy="383" r="1.3"/><circle cx="539.6" cy="302.8" r="1.2"/><circle cx="386.3" cy="347" r="1.8"/><circle cx="596.8" cy="471" r="1.4"/><circle cx="632.5" cy="215.7" r="1.3"/><circle cx="364.2" cy="390.6" r="1.7"/><circle cx="640.5" cy="286.8" r="1.8"/><circle cx="442" cy="415.4" r="1.2"/><circle cx="765.7" cy="164.7" r="1.8"/><circle cx="531.7" cy="482.1" r="1.3"/><circle cx="654.7" cy="250.3" r="1.9"/><circle cx="575.5" cy="580.3" r="1.3"/><circle cx="687.3" cy="333.7" r="1.2"/><circle cx="412.7" cy="173.2" r="1.3"/><circle cx="321.9" cy="430" r="1.3"/><circle cx="776" cy="228.2" r="1.9"/><circle cx="422.7" cy="276" r="1.2"/><circle cx="704.3" cy="557.3" r="1.2"/><circle cx="599.3" cy="186.5" r="1.3"/><circle cx="292.2" cy="414.8" r="1.4"/><circle cx="366.2" cy="299.7" r="1.4"/><circle cx="464.9" cy="390.1" r="1.4"/><circle cx="597.6" cy="309.7" r="1.2"/><circle cx="697.3" cy="144.7" r="1.2"/><circle cx="729.7" cy="581" r="1.4"/><circle cx="311.4" cy="570.7" r="1.2"/><circle cx="360.4" cy="513.9" r="1.3"/><circle cx="342.1" cy="335.9" r="1.4"/><circle cx="323.3" cy="458.2" r="1.3"/><circle cx="775.6" cy="262.2" r="1.2"/><circle cx="365.1" cy="159.7" r="1.3"/><circle cx="344.6" cy="590.1" r="1.4"/><circle cx="738.9" cy="545.2" r="1.2"/><circle cx="764.7" cy="553.2" r="1.3"/><circle cx="743" cy="219.4" r="1.3"/><circle cx="450.9" cy="453.1" r="1.3"/><circle cx="569.2" cy="530.9" r="1.3"/><circle cx="323.9" cy="569" r="1.4"/><circle cx="641.9" cy="478.1" r="1.4"/><circle cx="338.4" cy="560.4" r="1.2"/><circle cx="637.4" cy="340.4" r="1.3"/><circle cx="745.9" cy="203.5" r="1.4"/><circle cx="424.1" cy="284" r="1.3"/><circle cx="701.5" cy="454.2" r="1.2"/><circle cx="521.9" cy="236.7" r="1.3"/><circle cx="405.8" cy="423.1" r="1.4"/><circle cx="441.3" cy="345.3" r="1.3"/><circle cx="357" cy="424.7" r="1.2"/><circle cx="276.9" cy="429" r="1.3"/><circle cx="359.9" cy="566.5" r="1.3"/><circle cx="766" cy="571.6" r="1.3"/><circle cx="551.7" cy="198.5" r="1.2"/><circle cx="517.2" cy="536" r="1.3"/></g>
<rect x="245" y="615" width="535" height="178" fill="#3a3a3a"/>
<g fill="#fff" clip-path="url(#gravclip)"><path d="M241.4 610.1 C241.4 610.1 258.3 610.1 258.3 610.1 C258.3 610.1 254.6 614.8 252.7 616.5 C250.8 618.1 248.9 618.7 247.1 620.0 C245.2 621.3 241.4 624.2 241.4 624.2 C241.4 624.2 241.4 610.1 241.4 610.1Z"/><path d="M247.8 632.7 C247.8 630.5 248.4 627.0 249.9 624.9 C251.4 622.9 254.5 621.3 256.9 620.4 C259.4 619.5 262.5 619.1 264.7 619.6 C266.9 620.1 269.3 621.7 270.3 623.5 C271.4 625.4 271.5 628.1 271.0 630.6 C270.6 633.1 269.2 636.1 267.5 638.3 C265.9 640.6 263.2 643.2 261.2 644.0 C259.2 644.8 257.4 644.2 255.5 643.3 C253.6 642.3 251.2 640.1 249.9 638.3 C248.6 636.6 247.8 634.9 247.8 632.7Z"/><path d="M268.2 610.1 C268.2 610.1 296.5 610.1 296.5 610.1 C296.5 610.1 295.2 615.2 294.3 617.9 C293.5 620.6 292.5 624.3 291.5 626.3 C290.6 628.4 290.2 629.6 288.7 630.3 C287.2 631.0 284.3 630.4 282.3 630.6 C280.4 630.7 278.4 632.5 277.0 631.3 C275.6 630.1 275.0 626.0 273.9 623.5 C272.8 621.1 271.3 618.7 270.3 616.5 C269.4 614.2 268.2 610.1 268.2 610.1Z"/><path d="M297.2 610.1 C297.2 610.1 352.2 610.1 352.2 610.1 C352.2 610.1 352.1 618.1 351.5 622.1 C350.9 626.1 350.3 630.7 348.7 634.1 C347.0 637.5 344.7 640.9 341.6 642.3 C338.6 643.7 334.6 643.2 330.3 642.6 C326.1 641.9 320.7 639.6 316.2 638.3 C311.7 637.1 306.5 636.6 303.5 635.1 C300.5 633.6 299.2 631.8 298.1 629.2 C297.1 626.5 297.3 622.5 297.2 619.3 C297.0 616.1 297.2 610.1 297.2 610.1Z"/><path d="M353.6 610.1 C353.6 610.1 378.3 610.1 378.3 610.1 C378.3 610.1 377.0 620.6 376.2 623.5 C375.4 626.5 375.6 627.4 373.4 627.8 C371.1 628.1 365.7 626.2 362.8 625.6 C359.8 625.1 357.1 625.7 355.7 624.7 C354.4 623.6 354.9 621.7 354.6 619.3 C354.2 616.9 353.6 610.1 353.6 610.1Z"/><path d="M349.4 641.9 C349.6 638.9 350.9 636.0 352.9 634.1 C354.9 632.2 358.3 630.8 361.4 630.6 C364.4 630.3 368.7 631.1 371.2 632.7 C373.8 634.3 376.2 637.0 376.9 640.5 C377.6 643.9 376.7 650.0 375.5 653.2 C374.3 656.3 372.7 658.9 369.8 659.5 C367.0 660.1 361.6 658.0 358.5 656.7 C355.5 655.4 353.0 654.2 351.5 651.8 C350.0 649.3 349.1 644.8 349.4 641.9Z"/><path d="M260.5 663.0 C260.8 659.5 261.6 655.3 263.3 651.8 C264.9 648.2 267.6 644.6 270.3 641.9 C273.0 639.2 276.6 636.7 279.5 635.5 C282.5 634.3 285.6 634.0 288.0 634.8 C290.3 635.6 292.6 637.4 293.6 640.5 C294.7 643.5 294.8 648.7 294.3 653.2 C293.9 657.6 291.9 663.3 290.8 667.3 C289.7 671.3 289.9 674.8 288.0 677.2 C286.1 679.5 282.8 680.9 279.5 681.4 C276.2 681.9 271.3 681.4 268.2 680.0 C265.2 678.6 262.5 675.7 261.2 672.9 C259.9 670.1 260.1 666.6 260.5 663.0Z"/><path d="M241.4 645.4 C241.4 645.4 247.9 647.6 249.9 649.6 C251.9 651.6 253.4 654.7 253.4 657.4 C253.4 660.1 251.9 663.9 249.9 665.9 C247.9 667.9 241.4 669.4 241.4 669.4 C241.4 669.4 241.4 645.4 241.4 645.4Z"/><ellipse cx="252.4" cy="672.2" rx="2.5" ry="2.0" transform="rotate(0 252.4 672.2)"/><ellipse cx="300.4" cy="642.2" rx="2.0" ry="2.4" transform="rotate(-30 300.4 642.2)"/><path d="M295.7 675.7 C296.2 672.4 298.1 665.9 299.3 661.6 C300.5 657.4 301.2 653.2 302.8 650.3 C304.4 647.5 306.2 645.3 309.2 644.4 C312.1 643.5 316.0 643.8 320.4 645.0 C324.9 646.2 331.5 649.7 336.0 651.8 C340.4 653.8 344.8 655.3 347.3 657.4 C349.7 659.5 350.6 661.6 350.8 664.5 C351.0 667.3 350.0 671.5 348.7 674.3 C347.4 677.2 346.1 679.0 343.0 681.4 C340.0 683.7 334.3 686.4 330.3 688.4 C326.3 690.4 322.6 692.9 319.0 693.4 C315.5 693.9 312.0 692.7 309.2 691.3 C306.3 689.9 304.2 686.6 302.1 684.9 C300.0 683.3 297.5 682.9 296.5 681.4 C295.4 679.9 295.3 679.0 295.7 675.7Z"/><ellipse cx="342.3" cy="649.2" rx="2.4" ry="1.7" transform="rotate(10 342.3 649.2)"/><ellipse cx="357.4" cy="661.9" rx="3.1" ry="1.7" transform="rotate(15 357.4 661.9)"/><ellipse cx="347.5" cy="685.9" rx="2.1" ry="1.4" transform="rotate(-20 347.5 685.9)"/><ellipse cx="327.1" cy="696.5" rx="2.3" ry="1.4" transform="rotate(-30 327.1 696.5)"/><ellipse cx="293.6" cy="690.6" rx="4.0" ry="2.5" transform="rotate(20 293.6 690.6)"/><path d="M241.4 680.0 C241.4 680.0 252.5 679.2 255.5 680.0 C258.6 680.8 259.1 682.5 259.8 684.9 C260.4 687.4 259.5 694.7 259.5 694.7 C259.5 694.7 241.4 694.7 241.4 694.7 C241.4 694.7 241.4 680.0 241.4 680.0Z"/><path d="M267.5 694.7 C267.5 694.7 270.6 691.8 272.5 691.0 C274.3 690.2 276.8 689.6 278.8 689.9 C280.8 690.1 283.4 691.9 284.5 692.7 C285.6 693.5 285.4 694.7 285.4 694.7 C285.4 694.7 267.5 694.7 267.5 694.7Z"/><path d="M354.5 682.8 C354.5 679.7 354.5 675.3 355.9 672.9 C357.3 670.5 359.9 668.6 362.9 668.4 C366.0 668.2 371.1 669.8 374.2 671.5 C377.4 673.2 380.3 676.0 382.0 678.6 C383.6 681.2 384.2 684.0 384.1 687.0 C384.0 690.1 383.2 694.6 381.3 696.9 C379.4 699.3 376.1 700.9 372.8 701.1 C369.5 701.4 364.4 700.0 361.5 698.3 C358.7 696.7 357.1 693.9 355.9 691.3 C354.7 688.7 354.5 685.9 354.5 682.8Z"/><path d="M380.6 610.1 C380.6 610.1 413.8 610.1 413.8 610.1 C413.8 610.1 411.2 618.5 409.5 622.1 C407.9 625.8 405.6 629.1 403.9 632.0 C402.1 634.9 401.3 638.4 398.9 639.8 C396.6 641.1 392.6 640.6 389.8 640.2 C386.9 639.7 383.8 639.0 382.0 636.9 C380.2 634.9 379.4 632.2 379.2 627.8 C378.9 623.3 380.6 610.1 380.6 610.1Z"/><path d="M418.0 610.1 C418.0 610.1 427.9 610.1 427.9 610.1 C427.9 610.1 425.2 615.5 423.6 617.2 C422.1 618.8 419.6 621.2 418.7 620.0 C417.7 618.8 418.0 610.1 418.0 610.1Z"/><path d="M442.7 610.1 C442.7 610.1 456.1 610.1 456.1 610.1 C456.1 610.1 456.6 619.4 455.4 620.7 C454.2 622.0 451.1 619.6 449.0 617.9 C446.9 616.1 442.7 610.1 442.7 610.1Z"/><path d="M459.6 610.1 C459.6 610.1 485.7 610.1 485.7 610.1 C485.7 610.1 485.3 616.7 484.3 619.3 C483.4 621.9 482.2 624.0 480.1 625.6 C478.0 627.3 474.4 628.8 471.6 629.2 C468.8 629.5 465.0 628.9 463.1 627.8 C461.3 626.6 460.9 625.1 460.3 622.1 C459.7 619.2 459.6 610.1 459.6 610.1Z"/><path d="M406.0 646.1 C406.2 642.6 406.8 637.2 408.8 633.4 C410.8 629.6 414.3 625.9 418.0 623.5 C421.6 621.2 426.2 619.8 430.7 619.3 C435.2 618.8 440.3 619.1 444.8 620.7 C449.3 622.3 453.7 625.9 457.5 629.2 C461.3 632.5 465.5 636.5 467.4 640.5 C469.3 644.5 470.0 649.4 468.8 653.2 C467.6 656.9 463.9 660.2 460.3 663.0 C456.8 665.9 451.6 668.5 447.6 670.1 C443.6 671.7 440.3 672.9 436.3 672.9 C432.3 672.9 427.4 671.7 423.6 670.1 C419.9 668.5 416.5 665.6 413.8 663.0 C411.0 660.5 408.7 657.4 407.4 654.6 C406.1 651.8 405.8 649.6 406.0 646.1Z"/><path d="M380.6 660.2 C380.8 658.1 381.6 654.8 383.4 653.2 C385.2 651.5 388.5 650.1 391.2 650.3 C393.9 650.6 397.6 652.7 399.6 654.6 C401.6 656.5 403.0 659.7 403.2 661.6 C403.3 663.5 401.4 664.7 400.3 665.9 C399.3 667.0 398.8 668.0 396.8 668.7 C394.8 669.4 390.8 670.6 388.3 670.1 C385.9 669.6 383.3 667.5 382.0 665.9 C380.7 664.2 380.3 662.3 380.6 660.2Z"/><path d="M381.3 648.9 C380.5 648.6 382.2 643.9 383.4 643.3 C384.6 642.7 388.7 644.5 388.3 645.4 C388.0 646.3 382.1 649.3 381.3 648.9Z"/><ellipse cx="398.9" cy="646.4" rx="2.1" ry="1.7" transform="rotate(0 398.9 646.4)"/><ellipse cx="386.9" cy="675.5" rx="1.4" ry="1.3" transform="rotate(0 386.9 675.5)"/><ellipse cx="385.8" cy="701.4" rx="1.7" ry="1.4" transform="rotate(0 385.8 701.4)"/><ellipse cx="442.7" cy="688.4" rx="6.8" ry="7.5" transform="rotate(0 442.7 688.4)"/><path d="M453.3 680.0 C453.3 677.0 454.0 673.9 456.1 671.5 C458.2 669.2 462.2 667.2 466.0 665.9 C469.7 664.6 474.7 663.3 478.7 663.7 C482.7 664.2 487.6 666.2 490.0 668.7 C492.3 671.2 493.0 675.3 492.8 678.6 C492.5 681.9 490.9 686.0 488.5 688.4 C486.2 690.9 482.4 692.3 478.7 693.4 C474.9 694.4 469.7 695.5 466.0 694.8 C462.2 694.1 458.2 691.6 456.1 689.1 C454.0 686.7 453.3 682.9 453.3 680.0Z"/><ellipse cx="495.9" cy="667.3" rx="2.4" ry="1.7" transform="rotate(0 495.9 667.3)"/><path d="M488.7 610.1 C488.7 610.1 536.0 610.1 536.0 610.1 C536.0 610.1 533.3 620.9 531.8 623.5 C530.2 626.1 529.8 625.3 526.8 625.6 C523.9 626.0 518.6 625.8 514.1 625.6 C509.6 625.5 504.0 625.5 500.0 624.9 C496.0 624.3 492.0 623.3 490.1 622.1 C488.2 620.9 488.9 619.9 488.7 617.9 C488.5 615.9 488.7 610.1 488.7 610.1Z"/><path d="M471.6 638.3 C472.1 635.4 475.2 634.2 478.7 632.7 C482.2 631.2 487.6 629.5 492.8 629.2 C498.0 628.8 503.8 630.1 509.7 630.6 C515.6 631.1 523.7 630.6 528.2 632.0 C532.7 633.4 534.6 636.7 536.7 639.0 C538.8 641.4 540.9 643.8 540.9 646.1 C540.9 648.5 539.3 651.4 536.7 653.2 C534.1 654.9 529.6 655.7 525.4 656.7 C521.2 657.6 516.0 658.2 511.3 658.8 C506.6 659.4 501.8 660.2 497.0 660.2 C492.3 660.2 486.5 660.5 482.9 658.8 C479.4 657.2 477.7 653.7 475.9 650.3 C474.0 646.9 471.2 641.3 471.6 638.3Z"/><path d="M498.4 675.7 C499.0 673.9 501.0 672.1 504.1 670.1 C507.2 668.1 512.4 665.0 516.9 663.7 C521.4 662.5 527.4 662.0 531.0 662.3 C534.7 662.7 537.4 664.3 538.8 665.9 C540.2 667.4 540.3 669.4 539.5 671.5 C538.7 673.6 536.2 676.3 533.9 678.6 C531.5 680.8 528.2 683.5 525.4 684.9 C522.6 686.3 520.0 687.0 516.9 687.0 C513.9 687.0 509.8 685.9 507.1 684.9 C504.4 684.0 502.1 682.9 500.7 681.4 C499.3 679.9 497.9 677.6 498.4 675.7Z"/><path d="M536.0 626.3 C536.2 624.1 537.3 620.3 539.5 618.6 C541.8 616.8 545.6 616.1 549.4 615.8 C553.2 615.4 558.3 615.2 562.1 616.5 C565.9 617.8 570.1 620.7 572.0 623.5 C573.9 626.3 574.3 630.7 573.4 633.4 C572.4 636.1 569.2 638.1 566.3 639.8 C563.5 641.4 560.0 643.4 556.5 643.3 C552.9 643.2 548.2 640.9 545.2 639.0 C542.1 637.2 539.6 634.1 538.1 632.0 C536.6 629.9 535.8 628.6 536.0 626.3Z"/><path d="M567.7 610.1 C567.7 610.1 579.0 610.1 579.0 610.1 C579.0 610.1 575.3 620.0 573.4 620.0 C571.5 620.0 567.7 610.1 567.7 610.1Z"/><path d="M579.0 629.2 C579.1 626.3 580.2 622.7 581.9 620.7 C583.5 618.7 586.3 617.1 588.9 617.2 C591.5 617.3 595.5 619.4 597.4 621.4 C599.3 623.4 600.2 626.7 600.2 629.2 C600.2 631.6 598.3 634.1 597.4 636.2 C596.4 638.3 596.2 640.8 594.6 641.9 C592.9 642.9 589.7 643.3 587.5 642.6 C585.3 641.9 582.6 639.9 581.1 637.6 C579.7 635.4 578.9 632.0 579.0 629.2Z"/><path d="M604.4 610.1 C604.4 610.1 638.3 610.1 638.3 610.1 C638.3 610.1 638.1 618.8 636.2 620.7 C634.3 622.6 630.9 621.2 627.0 621.4 C623.1 621.6 616.5 622.1 612.9 622.1 C609.3 622.1 606.6 623.4 605.1 621.4 C603.7 619.4 604.4 610.1 604.4 610.1Z"/><path d="M605.8 636.2 C606.3 633.2 608.7 630.7 611.5 629.2 C614.3 627.6 620.1 626.6 622.8 627.1 C625.5 627.5 626.9 629.3 627.7 632.0 C628.5 634.7 627.5 639.8 627.7 643.3 C628.0 646.8 629.3 650.5 629.1 653.2 C629.0 655.9 629.3 659.3 627.0 659.5 C624.8 659.7 618.8 656.6 615.7 654.6 C612.7 652.6 610.3 650.6 608.7 647.5 C607.0 644.5 605.4 639.3 605.8 636.2Z"/><path d="M598.1 646.1 C597.7 645.5 599.7 642.2 600.5 642.2 C601.3 642.1 603.4 645.2 603.0 645.8 C602.6 646.5 598.5 646.7 598.1 646.1Z"/><path d="M566.3 653.2 C566.3 650.8 567.4 647.8 569.2 646.1 C570.9 644.5 574.4 643.0 576.9 643.3 C579.4 643.5 582.6 645.4 584.0 647.5 C585.4 649.6 585.5 653.4 585.4 656.0 C585.3 658.6 584.8 661.6 583.3 663.0 C581.7 664.5 578.6 664.9 576.2 664.5 C573.9 664.0 570.8 662.1 569.2 660.2 C567.5 658.3 566.3 655.5 566.3 653.2Z"/><path d="M543.8 661.6 C543.9 659.0 544.8 655.3 546.6 653.2 C548.3 651.0 552.0 649.4 554.3 648.9 C556.7 648.5 559.5 648.2 560.7 650.3 C561.9 652.5 561.6 658.3 561.4 661.6 C561.2 664.9 560.8 668.2 559.3 670.1 C557.7 672.0 554.5 673.2 552.2 672.9 C550.0 672.7 547.3 670.6 545.9 668.7 C544.5 666.8 543.6 664.2 543.8 661.6Z"/><path d="M590.3 657.4 C590.8 654.6 594.3 652.7 597.4 651.8 C600.4 650.8 605.4 651.0 608.7 651.8 C612.0 652.5 615.0 653.4 617.1 656.0 C619.3 658.6 620.8 663.5 621.4 667.3 C622.0 671.0 621.6 675.5 620.7 678.6 C619.7 681.6 617.7 684.0 615.7 685.6 C613.7 687.3 610.8 689.1 608.7 688.4 C606.6 687.7 605.4 684.7 603.0 681.4 C600.7 678.1 596.7 672.7 594.6 668.7 C592.4 664.7 589.9 660.2 590.3 657.4Z"/><path d="M627.0 677.2 C627.1 674.8 628.4 672.1 629.8 670.8 C631.2 669.5 633.8 668.8 635.5 669.4 C637.1 670.0 639.1 672.3 639.7 674.3 C640.3 676.3 640.0 679.3 639.0 681.4 C638.1 683.5 635.7 686.4 634.1 687.0 C632.4 687.6 630.3 686.6 629.1 684.9 C628.0 683.3 626.9 679.5 627.0 677.2Z"/><ellipse cx="519.8" cy="694.1" rx="1.4" ry="1.4" transform="rotate(0 519.8 694.1)"/><path d="M633.2 640.3 C633.6 636.5 633.8 633.8 636.5 632.2 C639.1 630.6 643.7 630.2 649.4 630.6 C655.0 631.0 664.1 632.5 670.3 634.6 C676.5 636.8 681.9 640.4 686.5 643.5 C691.0 646.6 695.2 649.7 697.7 653.2 C700.3 656.7 701.8 660.2 701.8 664.5 C701.8 668.8 699.5 675.2 697.7 679.0 C696.0 682.7 695.3 686.0 691.3 687.0 C687.3 688.1 679.7 686.8 673.5 685.4 C667.4 684.1 659.8 681.9 654.2 679.0 C648.5 676.0 643.0 671.7 639.7 667.7 C636.3 663.6 635.1 659.3 634.0 654.8 C633.0 650.2 632.8 644.0 633.2 640.3Z"/><path d="M644.5 610.4 C644.5 610.4 668.7 610.4 668.7 610.4 C668.7 610.4 668.2 617.3 667.1 619.3 C666.0 621.3 664.4 621.8 662.3 622.5 C660.1 623.2 656.9 623.7 654.2 623.3 C651.5 622.9 647.7 622.2 646.1 620.1 C644.5 617.9 644.5 610.4 644.5 610.4Z"/><path d="M672.7 610.4 C672.7 610.4 722.7 610.4 722.7 610.4 C722.7 610.4 722.3 619.4 720.3 622.5 C718.3 625.6 714.7 627.1 710.6 629.0 C706.6 630.8 701.0 633.4 696.1 633.8 C691.3 634.2 685.4 632.7 681.6 631.4 C677.8 630.0 675.0 629.2 673.5 625.7 C672.1 622.2 672.7 610.4 672.7 610.4Z"/><ellipse cx="667.6" cy="628.2" rx="2.7" ry="1.6" transform="rotate(0 667.6 628.2)"/><path d="M728.4 610.4 C728.4 610.4 749.4 610.4 749.4 610.4 C749.4 610.4 748.5 618.5 746.9 620.9 C745.3 623.3 742.2 624.5 739.7 624.9 C737.1 625.3 733.4 624.5 731.6 623.3 C729.8 622.1 729.2 619.8 728.7 617.7 C728.2 615.5 728.4 610.4 728.4 610.4Z"/><path d="M755.0 610.4 C755.0 610.4 783.2 610.4 783.2 610.4 C783.2 610.4 784.6 625.3 783.2 628.2 C781.9 631.0 778.1 628.4 775.2 627.4 C772.2 626.3 768.6 622.8 765.5 621.7 C762.4 620.6 758.4 622.8 756.6 620.9 C754.9 619.0 755.0 610.4 755.0 610.4Z"/><ellipse cx="740.0" cy="631.4" rx="2.7" ry="1.3" transform="rotate(0 740.0 631.4)"/><ellipse cx="693.7" cy="644.6" rx="1.6" ry="1.8" transform="rotate(0 693.7 644.6)"/><path d="M701.0 645.1 C701.1 642.1 702.8 640.9 705.8 638.6 C708.8 636.4 714.4 632.5 718.7 631.4 C723.0 630.3 728.4 630.7 731.6 632.2 C734.8 633.7 736.9 637.0 738.1 640.3 C739.3 643.5 739.7 648.1 738.9 651.5 C738.1 655.0 735.8 658.8 733.2 661.2 C730.7 663.6 726.8 665.7 723.5 666.1 C720.3 666.5 717.0 665.3 713.9 663.6 C710.8 662.0 707.2 659.5 705.0 656.4 C702.8 653.3 700.8 648.1 701.0 645.1Z"/><path d="M746.9 643.5 C747.1 640.4 747.6 636.4 749.4 633.8 C751.1 631.3 753.9 629.0 757.4 628.2 C760.9 627.4 767.1 627.0 770.3 629.0 C773.5 631.0 775.8 637.0 776.8 640.3 C777.7 643.5 777.3 645.9 776.0 648.3 C774.6 650.7 771.8 653.4 768.7 654.8 C765.6 656.1 760.8 656.8 757.4 656.4 C754.1 656.0 750.3 654.5 748.5 652.4 C746.8 650.2 746.8 646.6 746.9 643.5Z"/><ellipse cx="709.0" cy="668.0" rx="2.3" ry="1.9" transform="rotate(0 709.0 668.0)"/><ellipse cx="731.8" cy="670.1" rx="1.5" ry="1.1" transform="rotate(0 731.8 670.1)"/><path d="M738.9 670.9 C738.6 667.9 740.9 664.7 742.9 662.8 C744.9 661.0 748.3 659.8 751.0 659.9 C753.7 660.1 757.4 661.5 759.0 663.6 C760.6 665.7 760.6 669.7 760.6 672.5 C760.6 675.3 760.4 678.7 759.0 680.6 C757.7 682.5 755.0 683.8 752.6 683.8 C750.2 683.8 746.8 682.7 744.5 680.6 C742.2 678.4 739.1 673.9 738.9 670.9Z"/><path d="M767.1 669.3 C767.8 666.9 768.4 662.6 771.1 659.6 C773.8 656.7 783.2 651.5 783.2 651.5 C783.2 651.5 783.2 682.5 783.2 682.5 C783.2 682.5 774.6 680.4 771.9 679.0 C769.2 677.6 767.9 675.7 767.1 674.1 C766.3 672.5 766.4 671.7 767.1 669.3Z"/><ellipse cx="744.5" cy="689.5" rx="1.6" ry="1.6" transform="rotate(0 744.5 689.5)"/><path d="M300.4 702.8 C300.9 696.7 301.3 701.2 303.5 700.9 C305.7 700.7 310.1 700.3 313.4 701.4 C316.7 702.4 320.4 704.5 323.3 707.0 C326.1 709.5 328.9 713.5 330.3 716.2 C331.7 718.9 332.4 720.6 331.7 723.2 C331.0 725.8 328.0 729.3 326.1 731.7 C324.2 734.0 323.0 736.0 320.4 737.3 C317.9 738.7 313.9 739.9 310.6 739.9 C307.2 739.9 302.1 743.5 300.4 737.3 C298.7 731.2 299.9 708.8 300.4 702.8Z"/><path d="M333.1 703.5 C333.4 700.2 335.0 698.1 337.4 696.4 C339.7 694.8 344.0 693.4 347.3 693.6 C350.6 693.8 355.3 695.9 357.1 697.8 C359.0 699.7 359.3 702.3 358.5 704.9 C357.8 707.5 354.3 710.9 352.9 713.3 C351.5 715.8 351.7 718.4 350.1 719.7 C348.4 721.0 345.4 721.7 343.0 721.1 C340.7 720.5 337.6 719.1 336.0 716.2 C334.3 713.2 332.9 706.8 333.1 703.5Z"/><path d="M345.8 725.3 C346.3 724.4 351.0 723.8 351.5 724.6 C352.0 725.5 349.6 730.2 348.7 730.3 C347.7 730.4 345.4 726.3 345.8 725.3Z"/><path d="M326.8 740.2 C327.1 737.6 328.6 733.8 330.3 731.7 C332.1 729.6 335.0 727.6 337.4 727.7 C339.7 727.9 341.8 729.0 344.4 732.4 C347.0 735.8 352.2 744.7 352.9 747.9 C353.6 751.1 350.6 750.4 348.7 751.5 C346.8 752.5 344.2 754.3 341.6 754.3 C339.0 754.3 335.4 752.6 333.1 751.5 C330.9 750.3 329.3 749.1 328.2 747.2 C327.1 745.3 326.4 742.7 326.8 740.2Z"/><path d="M314.8 745.1 C314.4 744.4 319.1 742.0 320.4 742.3 C321.8 742.5 323.9 746.0 323.0 746.5 C322.0 747.0 315.2 745.8 314.8 745.1Z"/><path d="M352.9 750.7 C352.9 749.8 354.1 748.7 355.0 749.3 C356.0 749.9 358.5 753.3 358.5 754.3 C358.5 755.2 356.0 755.6 355.0 755.0 C354.1 754.4 352.9 751.7 352.9 750.7Z"/><path d="M331.7 764.9 C331.1 765.0 332.9 760.3 333.9 759.2 C334.8 758.2 337.7 757.6 337.4 758.5 C337.0 759.4 332.3 764.7 331.7 764.9Z"/><path d="M284.5 765.6 C285.0 762.3 286.0 758.4 288.0 755.7 C290.0 753.0 293.2 750.5 296.5 749.3 C299.7 748.2 303.7 748.3 307.7 748.6 C311.7 749.0 317.3 750.0 320.4 751.5 C323.6 752.9 326.0 754.3 326.8 757.1 C327.6 759.9 326.2 764.6 325.4 768.4 C324.6 772.2 323.3 775.0 321.9 779.7 C320.4 784.4 316.9 796.6 316.9 796.6 C316.9 796.6 302.1 796.6 302.1 796.6 C302.1 796.6 293.7 788.9 290.8 785.3 C287.9 781.8 285.9 778.7 284.9 775.4 C283.8 772.2 283.9 768.9 284.5 765.6Z"/><path d="M324.7 796.6 C324.7 796.6 328.0 784.6 330.3 779.7 C332.7 774.7 335.7 770.4 338.8 767.0 C341.8 763.6 345.4 760.0 348.7 759.2 C352.0 758.4 355.8 760.5 358.5 762.0 C361.3 763.6 363.6 765.4 364.9 768.4 C366.2 771.3 365.8 775.0 366.3 779.7 C366.8 784.4 367.7 796.6 367.7 796.6 C367.7 796.6 324.7 796.6 324.7 796.6Z"/><path d="M260.5 796.6 C260.5 796.6 264.3 788.3 266.8 785.3 C269.3 782.4 272.5 779.7 275.3 779.0 C278.1 778.3 280.9 779.3 283.8 781.1 C286.6 782.9 290.2 787.0 292.2 789.6 C294.2 792.1 295.7 796.6 295.7 796.6 C295.7 796.6 260.5 796.6 260.5 796.6Z"/><path d="M241.4 764.9 C241.4 764.9 246.4 765.0 248.5 767.0 C250.6 769.0 253.1 773.8 254.1 776.9 C255.2 779.9 255.1 782.7 254.8 785.3 C254.6 787.9 254.9 790.5 252.7 792.4 C250.5 794.3 241.4 796.6 241.4 796.6 C241.4 796.6 241.4 764.9 241.4 764.9Z"/><path d="M254.1 761.3 C253.8 759.1 254.8 755.8 255.5 754.3 C256.2 752.7 254.6 752.5 258.3 752.2 C262.1 751.8 274.6 751.8 278.1 752.2 C281.6 752.5 279.8 752.5 279.5 754.3 C279.3 756.0 278.1 760.0 276.7 762.7 C275.3 765.4 273.2 769.0 271.0 770.5 C268.9 772.0 266.2 772.4 264.0 771.9 C261.8 771.4 259.3 769.4 257.6 767.7 C256.0 765.9 254.5 763.6 254.1 761.3Z"/><ellipse cx="247.1" cy="758.8" rx="2.0" ry="1.6" transform="rotate(0 247.1 758.8)"/><ellipse cx="245.9" cy="751.9" rx="1.0" ry="0.8" transform="rotate(0 245.9 751.9)"/><ellipse cx="372.2" cy="763.9" rx="1.0" ry="1.0" transform="rotate(0 372.2 763.9)"/><path d="M355.0 731.7 C355.4 727.0 356.7 722.8 358.7 719.0 C360.7 715.2 363.9 711.2 367.2 709.1 C370.5 707.0 374.5 706.1 378.5 706.3 C382.5 706.5 387.2 707.7 391.2 710.5 C395.2 713.3 399.2 719.2 402.5 723.2 C405.8 727.2 409.3 731.5 410.9 734.5 C412.6 737.6 413.0 739.0 412.3 741.6 C411.6 744.2 409.5 747.9 406.7 750.0 C403.9 752.2 399.6 753.2 395.4 754.3 C391.2 755.3 386.7 756.2 381.3 756.4 C375.9 756.6 367.1 757.2 362.9 755.7 C358.8 754.2 357.9 751.2 356.6 747.2 C355.3 743.2 354.7 736.4 355.0 731.7Z"/><path d="M372.1 776.9 C372.6 774.5 374.1 770.2 375.6 768.4 C377.2 766.6 379.2 765.8 381.3 766.3 C383.4 766.7 386.3 769.0 388.3 771.2 C390.3 773.4 393.1 777.6 393.3 779.7 C393.5 781.8 391.3 782.6 389.8 783.9 C388.2 785.2 386.2 787.0 384.1 787.4 C382.0 787.9 378.9 787.6 377.1 786.7 C375.2 785.9 373.6 784.1 372.8 782.5 C372.0 780.9 371.6 779.2 372.1 776.9Z"/><path d="M389.8 687.1 C390.1 684.1 391.2 681.1 393.3 678.6 C395.4 676.2 399.3 673.6 402.5 672.3 C405.6 671.0 408.8 670.0 412.3 670.9 C415.9 671.7 420.9 674.5 423.6 677.2 C426.3 679.9 427.2 683.3 428.6 687.1 C430.0 690.9 431.3 696.1 432.1 699.8 C432.9 703.5 433.7 705.7 433.5 709.1 C433.3 712.5 432.3 717.8 430.7 720.4 C429.0 723.0 426.7 724.2 423.6 724.9 C420.6 725.6 415.9 726.1 412.3 724.6 C408.8 723.2 405.4 719.7 402.5 716.2 C399.5 712.6 396.6 706.8 394.7 703.5 C392.8 700.2 392.0 699.1 391.2 696.4 C390.3 693.7 389.4 690.1 389.8 687.1Z"/><path d="M439.9 713.3 C439.4 709.6 440.2 705.6 442.0 703.5 C443.7 701.4 446.0 701.0 450.4 700.6 C454.9 700.3 464.8 699.7 468.8 701.4 C472.8 703.0 473.7 707.3 474.4 710.5 C475.1 713.7 474.4 717.6 473.0 720.4 C471.6 723.2 469.0 725.8 466.0 727.5 C462.9 729.1 458.2 730.5 454.7 730.3 C451.1 730.0 447.3 728.9 444.8 726.0 C442.3 723.2 440.3 717.1 439.9 713.3Z"/><ellipse cx="437.0" cy="726.3" rx="2.1" ry="2.4" transform="rotate(-30 437.0 726.3)"/><ellipse cx="417.0" cy="731.7" rx="1.7" ry="1.4" transform="rotate(0 417.0 731.7)"/><ellipse cx="385.5" cy="701.6" rx="2.1" ry="1.7" transform="rotate(0 385.5 701.6)"/><path d="M420.1 743.0 C420.3 740.4 421.6 737.7 423.6 735.9 C425.6 734.2 428.6 732.4 432.1 732.4 C435.6 732.4 441.5 734.2 444.8 735.9 C448.1 737.7 450.6 740.4 451.9 743.0 C453.1 745.6 453.1 748.9 452.6 751.5 C452.0 754.0 450.3 757.0 448.3 758.5 C446.3 760.0 443.7 760.9 440.6 760.6 C437.4 760.4 432.3 758.6 429.3 757.1 C426.2 755.6 423.7 753.8 422.2 751.5 C420.7 749.1 419.9 745.6 420.1 743.0Z"/><ellipse cx="456.1" cy="737.3" rx="2.1" ry="1.4" transform="rotate(20 456.1 737.3)"/><path d="M456.8 754.3 C457.3 749.6 458.3 744.0 460.3 740.2 C462.3 736.3 465.5 733.0 468.8 731.0 C472.1 729.0 476.1 728.0 480.1 728.2 C484.1 728.3 489.5 729.5 492.8 731.7 C496.1 733.9 498.5 738.3 499.8 741.6 C501.1 744.9 501.2 747.9 500.5 751.5 C499.8 755.0 496.9 759.0 495.6 762.7 C494.3 766.5 494.4 770.3 492.8 774.0 C491.1 777.8 488.3 782.3 485.7 785.3 C483.1 788.4 480.1 791.7 477.3 792.4 C474.4 793.1 471.4 791.7 468.8 789.6 C466.2 787.4 463.6 783.2 461.7 779.7 C459.9 776.1 458.3 772.6 457.5 768.4 C456.7 764.2 456.3 759.0 456.8 754.3Z"/><ellipse cx="499.8" cy="731.0" rx="1.3" ry="1.3" transform="rotate(0 499.8 731.0)"/><path d="M398.9 769.8 C399.4 766.5 400.5 761.0 402.5 758.5 C404.5 756.0 407.6 755.0 410.9 755.0 C414.2 755.0 419.5 756.5 422.2 758.5 C424.9 760.5 426.5 764.4 427.2 767.0 C427.9 769.6 426.1 771.0 426.5 774.0 C426.8 777.1 429.5 782.4 429.3 785.3 C429.0 788.3 427.4 790.5 425.0 791.7 C422.7 792.8 418.5 793.2 415.2 792.4 C411.9 791.6 407.9 789.1 405.3 786.7 C402.7 784.4 400.7 781.1 399.6 778.3 C398.6 775.4 398.5 773.1 398.9 769.8Z"/><path d="M433.5 774.0 C433.6 772.0 433.3 769.0 434.9 767.7 C436.6 766.4 440.6 765.7 443.4 766.3 C446.2 766.9 450.7 769.4 451.9 771.2 C453.0 773.0 450.9 775.3 450.4 776.9 C450.0 778.4 450.7 779.6 449.0 780.4 C447.4 781.2 443.0 781.9 440.6 781.8 C438.1 781.7 435.4 781.0 434.2 779.7 C433.0 778.4 433.4 776.0 433.5 774.0Z"/><ellipse cx="393.6" cy="760.6" rx="1.7" ry="1.6" transform="rotate(0 393.6 760.6)"/><ellipse cx="372.4" cy="764.2" rx="1.0" ry="1.0" transform="rotate(0 372.4 764.2)"/><ellipse cx="454.8" cy="780.2" rx="1.3" ry="1.3" transform="rotate(0 454.8 780.2)"/><path d="M389.8 796.6 C389.8 796.6 393.1 792.6 395.4 791.7 C397.8 790.7 401.3 790.1 403.9 791.0 C406.5 791.8 410.9 796.6 410.9 796.6 C410.9 796.6 389.8 796.6 389.8 796.6Z"/><path d="M432.1 796.6 C432.1 796.6 437.5 790.6 440.6 788.9 C443.6 787.1 447.2 786.0 450.4 786.0 C453.7 786.0 457.5 787.1 460.3 788.9 C463.1 790.6 467.4 796.6 467.4 796.6 C467.4 796.6 432.1 796.6 432.1 796.6Z"/><ellipse cx="375.2" cy="792.7" rx="1.1" ry="1.0" transform="rotate(0 375.2 792.7)"/><path d="M479.4 710.5 C479.6 707.7 480.2 703.1 481.5 700.6 C482.8 698.2 484.6 697.3 487.2 695.7 C489.7 694.2 493.5 691.9 497.0 691.3 C500.6 690.7 505.5 690.6 508.5 692.2 C511.4 693.7 513.9 697.4 514.8 700.6 C515.8 703.9 514.9 708.6 514.1 711.9 C513.3 715.2 511.8 718.3 509.9 720.4 C508.0 722.5 505.9 723.8 502.8 724.6 C499.8 725.5 494.8 725.7 491.5 725.3 C488.2 725.0 484.9 723.8 483.1 722.5 C481.2 721.2 480.9 719.6 480.2 717.6 C479.6 715.6 479.2 713.3 479.4 710.5Z"/><path d="M504.9 735.9 C505.3 733.0 506.2 727.6 508.5 725.3 C510.7 723.1 515.5 722.3 518.3 722.5 C521.2 722.8 523.8 724.8 525.4 726.8 C527.0 728.8 528.2 732.0 528.2 734.5 C528.2 737.0 526.8 739.5 525.4 741.6 C524.0 743.7 521.9 746.2 519.8 747.2 C517.6 748.3 514.9 748.6 512.7 747.9 C510.5 747.2 507.6 745.0 506.4 743.0 C505.1 741.0 504.6 738.9 504.9 735.9Z"/><path d="M499.2 779.7 C499.0 774.5 499.6 769.6 500.7 765.6 C501.8 761.6 503.4 757.8 505.6 755.7 C507.9 753.6 511.3 752.5 514.1 752.9 C516.9 753.2 520.5 755.0 522.6 757.8 C524.7 760.6 525.9 765.9 526.8 769.8 C527.8 773.7 528.5 776.6 528.2 781.1 C528.0 785.6 525.4 796.6 525.4 796.6 C525.4 796.6 501.4 796.6 501.4 796.6 C501.4 796.6 499.3 784.9 499.2 779.7Z"/><path d="M523.3 698.4 C524.2 695.2 525.5 690.4 528.2 687.1 C530.9 683.8 535.9 680.2 539.5 678.6 C543.2 677.1 548.2 675.6 550.1 677.9 C552.0 680.3 550.9 687.5 550.8 692.7 C550.7 697.9 549.7 704.6 549.4 709.1 C549.0 713.6 549.9 717.5 548.7 719.7 C547.5 721.9 545.3 722.0 542.3 722.5 C539.4 723.0 534.1 723.6 531.0 722.5 C528.0 721.5 525.4 718.9 524.0 716.2 C522.6 713.5 522.7 709.3 522.6 706.3 C522.5 703.3 522.3 701.6 523.3 698.4Z"/><path d="M556.5 692.7 C557.4 688.8 558.6 682.3 560.7 678.6 C562.8 675.0 565.6 672.3 569.2 670.9 C572.7 669.5 577.6 669.1 581.9 670.2 C586.1 671.2 591.7 674.2 594.6 677.2 C597.4 680.3 598.3 684.8 598.8 688.5 C599.3 692.2 598.8 695.3 597.4 699.2 C596.0 703.1 592.4 707.6 590.3 711.9 C588.2 716.3 587.5 723.2 584.7 725.3 C581.9 727.5 577.2 725.5 573.4 724.6 C569.6 723.8 565.0 722.5 562.1 720.4 C559.2 718.3 556.9 715.0 555.7 711.9 C554.6 708.9 554.9 705.3 555.0 702.1 C555.2 698.9 555.5 696.6 556.5 692.7Z"/><path d="M589.6 724.6 C590.3 721.1 594.4 716.4 597.4 711.9 C600.3 707.5 604.7 701.5 607.3 697.8 C609.8 694.2 609.6 691.1 612.9 689.9 C616.2 688.7 623.5 689.4 627.0 690.8 C630.5 692.1 632.2 695.5 634.1 697.8 C635.9 700.2 636.5 701.7 638.0 704.7 C639.5 707.8 642.7 712.3 643.0 716.0 C643.2 719.8 641.9 723.8 639.7 727.3 C637.6 730.8 634.0 735.1 630.0 736.9 C626.0 738.7 620.5 737.9 615.7 738.0 C611.0 738.2 605.4 738.9 601.6 738.0 C597.8 737.2 595.1 735.3 593.1 733.1 C591.1 730.9 588.9 728.2 589.6 724.6Z"/><path d="M527.5 751.5 C527.8 747.2 528.8 741.1 531.0 737.3 C533.3 733.6 536.9 730.6 540.9 728.9 C544.9 727.1 551.4 726.3 555.0 726.8 C558.7 727.2 561.6 729.0 562.8 731.7 C564.0 734.4 562.4 739.7 562.1 743.0 C561.7 746.3 560.5 748.4 560.7 751.5 C560.9 754.5 563.7 758.0 563.5 761.3 C563.3 764.6 561.9 769.0 559.3 771.2 C556.7 773.4 552.0 774.5 548.0 774.7 C544.0 775.0 538.3 774.6 535.3 772.6 C532.2 770.6 530.9 766.3 529.6 762.7 C528.3 759.2 527.3 755.7 527.5 751.5Z"/><path d="M568.4 745.8 C568.4 741.8 568.8 737.0 570.6 734.5 C572.3 732.0 576.2 730.9 579.0 731.0 C581.9 731.1 585.3 733.5 587.5 735.2 C589.7 737.0 592.3 740.0 592.4 741.6 C592.6 743.1 589.5 742.3 588.2 744.4 C586.9 746.5 586.2 751.6 584.7 754.3 C583.1 757.0 581.4 759.9 579.0 760.6 C576.7 761.3 572.3 761.0 570.6 758.5 C568.8 756.0 568.4 749.8 568.4 745.8Z"/><path d="M588.2 759.9 C588.9 757.6 590.0 753.8 593.1 751.5 C596.3 749.1 601.6 747.1 607.3 745.8 C612.9 744.5 620.5 743.5 627.0 743.7 C633.5 743.8 641.0 745.1 646.1 746.7 C651.1 748.2 654.9 750.6 657.4 753.0 C659.8 755.4 660.6 758.5 660.6 761.2 C660.6 763.9 659.8 766.8 657.4 769.2 C654.9 771.6 650.6 774.2 646.1 775.6 C641.5 776.9 634.3 776.6 630.0 777.3 C625.6 778.0 623.3 779.7 620.0 779.7 C616.6 779.6 614.1 778.3 610.1 776.9 C606.1 775.4 599.5 773.1 596.0 771.2 C592.4 769.3 590.2 767.4 588.9 765.6 C587.6 763.7 587.5 762.3 588.2 759.9Z"/><path d="M564.2 778.3 C564.2 774.9 565.7 771.1 567.7 769.1 C569.7 767.1 573.4 766.2 576.2 766.3 C579.0 766.4 582.7 767.8 584.7 769.8 C586.7 771.8 588.2 775.4 588.2 778.3 C588.2 781.1 586.7 784.4 584.7 786.7 C582.7 789.1 579.0 791.9 576.2 792.4 C573.4 792.8 569.7 791.9 567.7 789.6 C565.7 787.2 564.2 781.7 564.2 778.3Z"/><path d="M533.9 780.4 C533.6 779.9 536.6 778.1 537.4 778.3 C538.2 778.4 539.4 780.7 538.8 781.1 C538.2 781.4 534.1 780.9 533.9 780.4Z"/><path d="M555.0 779.7 C555.2 779.0 559.3 777.2 560.0 777.6 C560.7 777.9 560.1 781.4 559.3 781.8 C558.5 782.1 554.9 780.4 555.0 779.7Z"/><ellipse cx="592.0" cy="781.1" rx="1.7" ry="1.3" transform="rotate(0 592.0 781.1)"/><path d="M526.1 796.6 C526.1 796.6 530.5 789.3 533.9 787.4 C537.3 785.6 542.6 785.2 546.6 785.3 C550.6 785.4 555.2 786.3 557.9 788.1 C560.6 790.0 562.8 796.6 562.8 796.6 C562.8 796.6 526.1 796.6 526.1 796.6Z"/><path d="M584.7 796.6 C584.7 796.6 591.3 788.9 596.0 786.7 C600.7 784.6 607.7 783.9 612.9 783.9 C618.1 783.9 623.8 784.6 627.0 786.7 C630.2 788.9 632.0 796.6 632.0 796.6 C632.0 796.6 584.7 796.6 584.7 796.6Z"/><path d="M640.5 695.2 C640.5 692.1 642.2 688.8 644.5 687.1 C646.8 685.3 650.4 684.4 654.2 684.7 C658.0 684.9 664.3 686.4 667.1 688.7 C669.9 691.0 670.7 695.5 671.1 698.4 C671.5 701.3 671.0 704.3 669.5 706.3 C668.0 708.3 665.1 709.7 662.3 710.3 C659.4 710.9 655.5 710.6 652.6 709.8 C649.6 709.0 646.5 707.9 644.5 705.5 C642.5 703.0 640.5 698.2 640.5 695.2Z"/><path d="M677.6 699.8 C678.1 698.0 679.3 695.2 681.6 694.2 C683.9 693.1 688.6 692.9 691.3 693.5 C694.0 694.2 696.4 696.1 697.7 698.2 C699.1 700.3 699.9 704.3 699.4 706.3 C698.8 708.3 696.9 709.8 694.5 710.3 C692.1 710.9 687.5 710.3 684.8 709.5 C682.2 708.7 679.6 707.1 678.4 705.5 C677.2 703.9 677.0 701.7 677.6 699.8Z"/><path d="M699.4 690.3 C700.2 687.1 702.6 681.6 705.8 679.0 C709.0 676.5 714.1 675.3 718.7 675.0 C723.3 674.7 729.9 675.4 733.2 677.4 C736.6 679.4 738.2 683.1 738.9 687.1 C739.5 691.1 738.5 697.2 737.3 701.5 C736.0 705.7 733.6 710.2 731.6 712.7 C729.6 715.3 728.1 716.5 725.2 716.8 C722.2 717.0 717.1 715.8 713.9 714.4 C710.6 712.9 708.0 710.6 705.8 707.9 C703.7 705.2 702.0 701.2 701.0 698.2 C699.9 695.3 698.5 693.5 699.4 690.3Z"/><path d="M739.7 716.0 C739.7 712.5 741.2 708.2 742.9 704.7 C744.7 701.2 747.2 697.7 750.2 695.0 C753.1 692.3 755.1 689.7 760.6 688.5 C766.2 687.4 783.2 688.1 783.2 688.1 C783.2 688.1 783.2 733.7 783.2 733.7 C783.2 733.7 772.2 734.8 767.1 734.5 C762.0 734.2 756.6 733.6 752.6 732.1 C748.5 730.6 745.1 728.3 742.9 725.6 C740.8 723.0 739.7 719.5 739.7 716.0Z"/><ellipse cx="704.2" cy="722.7" rx="7.3" ry="8.4" transform="rotate(0 704.2 722.7)"/><path d="M643.7 728.9 C644.1 726.2 645.5 721.5 648.5 719.2 C651.6 716.9 657.3 715.7 662.3 715.2 C667.2 714.6 673.5 714.8 678.4 716.0 C683.2 717.2 689.0 719.7 691.3 722.4 C693.6 725.1 693.2 728.6 692.1 732.1 C691.0 735.6 688.5 740.3 684.8 743.4 C681.2 746.5 675.2 750.6 670.3 750.6 C665.5 750.6 659.8 745.9 655.8 743.4 C651.8 740.8 648.1 737.7 646.1 735.3 C644.1 732.9 643.3 731.6 643.7 728.9Z"/><path d="M718.7 731.3 C719.0 729.3 721.4 725.6 723.5 724.0 C725.7 722.4 728.7 720.4 731.6 721.6 C734.6 722.8 738.9 728.6 741.3 731.3 C743.7 734.0 745.9 735.9 746.1 737.7 C746.4 739.6 745.3 742.0 742.9 742.6 C740.5 743.1 735.1 742.0 731.6 741.0 C728.1 739.9 724.1 737.7 721.9 736.1 C719.8 734.5 718.4 733.3 718.7 731.3Z"/><path d="M694.5 745.0 C695.2 742.6 697.2 739.5 699.4 737.7 C701.5 736.0 703.9 734.5 707.4 734.5 C710.9 734.5 716.0 735.7 720.3 737.7 C724.6 739.8 730.8 743.8 733.2 746.6 C735.6 749.4 735.4 752.4 734.8 754.7 C734.3 757.0 733.0 759.0 730.0 760.3 C727.0 761.7 721.7 763.0 717.1 762.7 C712.5 762.5 706.2 760.5 702.6 758.7 C699.0 757.0 696.7 754.5 695.3 752.3 C694.0 750.0 693.8 747.4 694.5 745.0Z"/><path d="M742.9 756.3 C742.9 753.1 743.7 749.2 746.1 746.6 C748.5 744.1 753.1 741.9 757.4 741.0 C761.7 740.0 767.6 740.0 771.9 741.0 C776.2 741.9 783.2 746.6 783.2 746.6 C783.2 746.6 783.2 770.8 783.2 770.8 C783.2 770.8 776.2 775.1 771.9 775.6 C767.6 776.2 761.7 775.6 757.4 774.0 C753.1 772.4 748.5 768.9 746.1 766.0 C743.7 763.0 742.9 759.5 742.9 756.3Z"/><path d="M658.2 778.9 C659.0 775.4 663.7 770.0 667.1 766.0 C670.5 761.9 675.2 757.0 678.4 754.7 C681.6 752.4 683.8 751.7 686.5 752.3 C689.1 752.8 691.8 754.8 694.5 757.9 C697.2 761.0 700.8 766.2 702.6 770.8 C704.3 775.4 705.0 780.8 705.0 785.3 C705.0 789.9 702.6 798.2 702.6 798.2 C702.6 798.2 671.9 798.2 671.9 798.2 C671.9 798.2 664.5 790.2 662.3 786.9 C660.0 783.7 657.4 782.4 658.2 778.9Z"/><path d="M710.6 778.9 C711.2 775.8 712.3 772.0 715.5 770.0 C718.7 768.0 725.4 766.6 730.0 766.8 C734.6 766.9 739.1 768.8 742.9 770.8 C746.7 772.8 750.3 775.4 752.6 778.9 C754.9 782.4 755.8 788.5 756.6 791.8 C757.4 795.0 757.4 798.2 757.4 798.2 C757.4 798.2 720.3 798.2 720.3 798.2 C720.3 798.2 713.9 791.8 712.3 788.5 C710.6 785.3 710.1 782.0 710.6 778.9Z"/><path d="M761.5 798.2 C761.5 798.2 763.7 788.1 765.5 785.3 C767.2 782.5 769.0 781.8 771.9 781.3 C774.9 780.8 783.2 782.1 783.2 782.1 C783.2 782.1 783.2 798.2 783.2 798.2 C783.2 798.2 761.5 798.2 761.5 798.2Z"/><path d="M636.5 798.2 C636.5 798.2 636.5 789.4 638.1 786.9 C639.7 784.5 643.2 783.7 646.1 783.4 C649.1 783.1 653.5 782.8 655.8 785.3 C658.1 787.8 659.8 798.2 659.8 798.2 C659.8 798.2 636.5 798.2 636.5 798.2Z"/></g>
<!-- container -->
<path fill="#3a3a3a" d="M220 5 H245 V793 H780 V5 H805 V786 A32.5 32.5 0 0 1 772.5 818.5 H252.5 A32.5 32.5 0 0 1 220 786 Z"/>
<!-- mesh -->
<rect x="245" y="592" width="535" height="9.6" fill="#3a3a3a"/>
<rect x="245" y="606" width="535" height="9" fill="#3a3a3a"/>
<!-- bracket -->
<path fill="none" stroke="#3a3a3a" stroke-width="5.6" d="M815 143.3 H859 V786.8 H815"/>
<path fill="none" stroke="#3a3a3a" stroke-width="5.4" d="M859 373.6 H987.5 M815 604 H859 M859 692.9 H987.5"/>
<!-- wire mesh label line -->
<path fill="none" stroke="#3a3a3a" stroke-width="6.6" stroke-linecap="round" d="M8.8 605.3 H222"/>
<!-- pipe -->
<path id="pipe" fill="#fff" stroke="#3a3a3a" stroke-width="7.2" stroke-linejoin="round"
 d="M294.3 700.5 H242.6 A109.3 109.3 0 0 0 139.9 772.3 Q138.9 775.1 141.7 776.2 L178.9 791.1 Q181.7 792.2 182.6 789.4 A63.4 63.4 0 0 1 242.6 746.4 H294.3 Z"/>
<!-- exit line with white halo -->
<path fill="none" stroke="#fff" stroke-width="15" d="M140 745.4 H175"/>
<path fill="none" stroke="#3a3a3a" stroke-width="6.5" stroke-linecap="round" d="M8.9 745.5 H184.7"/>
</svg>
<div class="t" style="left:909.7px;top:329.0px;transform:scaleX(0.860);transform-origin:2px 0;letter-spacing:1.98px;word-spacing:-3px">Sand</div><div class="t" style="left:904.0px;top:373.5px;transform:scaleX(0.860);transform-origin:2px 0;letter-spacing:2.85px;word-spacing:-3px">25cm</div><div class="t" style="left:889.2px;top:647.0px;transform:scaleX(0.860);transform-origin:2px 0;letter-spacing:2.38px;word-spacing:-3px">Gravel</div><div class="t" style="left:905.2px;top:692.5px;transform:scaleX(0.860);transform-origin:3px 0;letter-spacing:2.41px;word-spacing:-3px">10cm</div><div class="t" style="left:9.0px;top:519.0px;transform:scaleX(0.860);transform-origin:0px 0;letter-spacing:3.20px;word-spacing:-3px">Wire mesh</div><div class="t" style="left:7.7px;top:555.5px;transform:scaleX(0.860);transform-origin:2px 0;letter-spacing:2.95px;word-spacing:-3px">and cloth</div><div class="t" style="left:8.0px;top:695.0px;transform:scaleX(0.860);transform-origin:3px 0;letter-spacing:2.60px;word-spacing:-3px">Exit port</div>
<div style="position:absolute;left:906px;top:721.5px;width:7px;height:4px;background:#fff"></div><div style="position:absolute;left:916px;top:721.5px;width:6px;height:4px;background:#fff"></div>
</body></html>
